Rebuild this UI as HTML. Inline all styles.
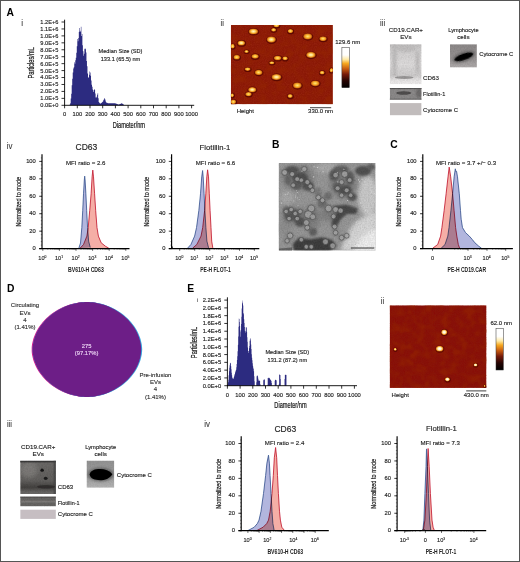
<!DOCTYPE html><html><head><meta charset="utf-8"><style>html,body{margin:0;padding:0;background:#fff}svg{display:block}text{font-family:"Liberation Sans",sans-serif}</style></head><body>
<svg width="520" height="562" viewBox="0 0 520 562">
<defs>
<filter id="noiseR" x="0" y="0" width="100%" height="100%"><feTurbulence type="fractalNoise" baseFrequency="0.9" numOctaves="2" seed="3" result="n"/><feColorMatrix in="n" type="matrix" values="0 0 0 0 0.55  0 0 0 0 0.08  0 0 0 0 0.03  0.9 0.9 0.9 0 -1.05"/></filter>
<filter id="noiseD" x="0" y="0" width="100%" height="100%"><feTurbulence type="fractalNoise" baseFrequency="0.9" numOctaves="2" seed="11" result="n"/><feColorMatrix in="n" type="matrix" values="0 0 0 0 0.25  0 0 0 0 0.0  0 0 0 0 0.0  0.9 0.9 0.9 0 -1.05"/></filter>
<filter id="mott" x="0" y="0" width="100%" height="100%"><feTurbulence type="fractalNoise" baseFrequency="0.12" numOctaves="2" seed="4" result="n"/><feColorMatrix in="n" type="matrix" values="0 0 0 0 0.30  0 0 0 0 0.02  0 0 0 0 0.0  1.6 1.6 1.6 0 -2.1"/></filter>
<filter id="noiseG" x="0" y="0" width="100%" height="100%"><feTurbulence type="fractalNoise" baseFrequency="0.7" numOctaves="2" seed="5" result="n"/><feColorMatrix in="n" type="matrix" values="0 0 0 0 0  0 0 0 0 0  0 0 0 0 0  0.8 0.8 0.8 0 -0.95"/></filter>
<filter id="noiseW" x="0" y="0" width="100%" height="100%"><feTurbulence type="fractalNoise" baseFrequency="0.7" numOctaves="2" seed="9" result="n"/><feColorMatrix in="n" type="matrix" values="0 0 0 0 1  0 0 0 0 1  0 0 0 0 1  0.8 0.8 0.8 0 -0.95"/></filter>
<filter id="b05" x="-20%" y="-20%" width="140%" height="140%"><feGaussianBlur stdDeviation="0.45"/></filter>
<filter id="b1" x="-20%" y="-20%" width="140%" height="140%"><feGaussianBlur stdDeviation="0.6"/></filter>
<filter id="b2" x="-30%" y="-30%" width="160%" height="160%"><feGaussianBlur stdDeviation="1.2"/></filter>
<filter id="b3" x="-30%" y="-30%" width="160%" height="160%"><feGaussianBlur stdDeviation="2.2"/></filter>
<radialGradient id="blob"><stop offset="0" stop-color="#ffe280"/><stop offset="0.4" stop-color="#f8c03c"/><stop offset="0.72" stop-color="#e88c1c"/><stop offset="1" stop-color="#a8400a"/></radialGradient>
<radialGradient id="blobw"><stop offset="0" stop-color="#fff4cc"/><stop offset="0.35" stop-color="#ffe07e"/><stop offset="0.72" stop-color="#ee9a22"/><stop offset="1" stop-color="#a8400a"/></radialGradient>
<radialGradient id="blobE"><stop offset="0" stop-color="#ffffff"/><stop offset="0.45" stop-color="#fff2c0"/><stop offset="0.8" stop-color="#f0a030"/><stop offset="1" stop-color="#b04808"/></radialGradient>
<linearGradient id="cbar" x1="0" y1="0" x2="0" y2="1"><stop offset="0" stop-color="#ffffff"/><stop offset="0.19" stop-color="#ffffff"/><stop offset="0.3" stop-color="#ffeaa6"/><stop offset="0.4" stop-color="#f6a820"/><stop offset="0.53" stop-color="#c85c10"/><stop offset="0.67" stop-color="#761a0a"/><stop offset="0.83" stop-color="#260503"/><stop offset="1" stop-color="#000000"/></linearGradient>
</defs>
<rect x="0" y="0" width="520" height="562" fill="#fff"/>
<text x="6.60" y="16.20" font-size="10.3" text-anchor="start" font-weight="bold" fill="#000" >A</text>
<text x="272.00" y="148.40" font-size="10.3" text-anchor="start" font-weight="bold" fill="#000" >B</text>
<text x="390.30" y="147.90" font-size="10.3" text-anchor="start" font-weight="bold" fill="#000" >C</text>
<text x="6.90" y="291.50" font-size="10.3" text-anchor="start" font-weight="bold" fill="#000" >D</text>
<text x="187.30" y="291.60" font-size="10.3" text-anchor="start" font-weight="bold" fill="#000" >E</text>
<path d="M64.60,105.30 L64.60,105.30 L65.11,105.30 L65.11,105.30 L65.62,105.30 L65.62,105.30 L66.12,105.30 L66.12,105.30 L66.63,105.30 L66.63,105.30 L67.14,105.30 L67.14,105.30 L67.65,105.30 L67.65,105.30 L68.16,105.30 L68.16,105.30 L68.66,105.30 L68.66,105.30 L69.17,105.30 L69.17,105.30 L69.68,105.30 L69.68,104.61 L70.19,104.61 L70.19,103.22 L70.70,103.22 L70.70,98.42 L71.20,98.42 L71.20,93.76 L71.71,93.76 L71.71,85.32 L72.22,85.32 L72.22,78.81 L72.73,78.81 L72.73,72.50 L73.24,72.50 L73.24,68.61 L73.74,68.61 L73.74,67.17 L74.25,67.17 L74.25,62.31 L74.76,62.31 L74.76,63.72 L75.27,63.72 L75.27,60.36 L75.78,60.36 L75.78,57.66 L76.28,57.66 L76.28,52.75 L76.79,52.75 L76.79,46.22 L77.30,46.22 L77.30,39.06 L77.81,39.06 L77.81,41.22 L78.32,41.22 L78.32,38.07 L78.82,38.07 L78.82,32.11 L79.33,32.11 L79.33,28.02 L79.84,28.02 L79.84,30.68 L80.35,30.68 L80.35,31.63 L80.86,31.63 L80.86,26.85 L81.36,26.85 L81.36,36.01 L81.87,36.01 L81.87,33.93 L82.38,33.93 L82.38,45.28 L82.89,45.28 L82.89,51.27 L83.40,51.27 L83.40,55.80 L83.90,55.80 L83.90,53.82 L84.41,53.82 L84.41,48.84 L84.92,48.84 L84.92,49.32 L85.43,49.32 L85.43,48.56 L85.94,48.56 L85.94,52.42 L86.44,52.42 L86.44,60.89 L86.95,60.89 L86.95,66.33 L87.46,66.33 L87.46,73.41 L87.97,73.41 L87.97,77.23 L88.48,77.23 L88.48,77.79 L88.98,77.79 L88.98,74.64 L89.49,74.64 L89.49,71.62 L90.00,71.62 L90.00,72.38 L90.51,72.38 L90.51,75.86 L91.02,75.86 L91.02,80.46 L91.52,80.46 L91.52,84.83 L92.03,84.83 L92.03,86.65 L92.54,86.65 L92.54,89.59 L93.05,89.59 L93.05,92.11 L93.56,92.11 L93.56,90.32 L94.06,90.32 L94.06,89.20 L94.57,89.20 L94.57,89.67 L95.08,89.67 L95.08,93.51 L95.59,93.51 L95.59,97.52 L96.10,97.52 L96.10,96.82 L96.60,96.82 L96.60,97.68 L97.11,97.68 L97.11,94.75 L97.62,94.75 L97.62,93.30 L98.13,93.30 L98.13,98.15 L98.64,98.15 L98.64,101.97 L99.14,101.97 L99.14,102.85 L99.65,102.85 L99.65,103.34 L100.16,103.34 L100.16,103.80 L100.67,103.80 L100.67,103.36 L101.18,103.36 L101.18,102.93 L101.68,102.93 L101.68,102.54 L102.19,102.54 L102.19,102.08 L102.70,102.08 L102.70,101.40 L103.21,101.40 L103.21,100.14 L103.72,100.14 L103.72,99.44 L104.22,99.44 L104.22,98.06 L104.73,98.06 L104.73,98.97 L105.24,98.97 L105.24,100.43 L105.75,100.43 L105.75,101.94 L106.26,101.94 L106.26,102.64 L106.76,102.64 L106.76,102.87 L107.27,102.87 L107.27,103.10 L107.78,103.10 L107.78,103.22 L108.29,103.22 L108.29,103.22 L108.80,103.22 L108.80,103.22 L109.30,103.22 L109.30,103.22 L109.81,103.22 L109.81,103.22 L110.32,103.22 L110.32,103.22 L110.83,103.22 L110.83,103.22 L111.34,103.22 L111.34,103.22 L111.84,103.22 L111.84,103.22 L112.35,103.22 L112.35,103.22 L112.86,103.22 L112.86,103.22 L113.37,103.22 L113.37,103.22 L113.88,103.22 L113.88,103.22 L114.38,103.22 L114.38,103.22 L114.89,103.22 L114.89,103.27 L115.40,103.27 L115.40,103.47 L115.91,103.47 L115.91,103.66 L116.42,103.66 L116.42,103.86 L116.92,103.86 L116.92,104.06 L117.43,104.06 L117.43,104.26 L117.94,104.26 L117.94,104.46 L118.45,104.46 L118.45,104.55 L118.96,104.55 L118.96,104.35 L119.46,104.35 L119.46,104.14 L119.97,104.14 L119.97,103.94 L120.48,103.94 L120.48,103.73 L120.99,103.73 L120.99,103.53 L121.50,103.53 L121.50,103.32 L122.00,103.32 L122.00,103.45 L122.51,103.45 L122.51,103.91 L123.02,103.91 L123.02,104.37 L123.53,104.37 L123.53,104.84 L124.04,104.84 L124.04,105.30 L124.54,105.30 L124.54,105.30 L125.05,105.30 L125.05,105.30Z" fill="#2c2b80"/>
<line x1="64.60" y1="19.70" x2="64.60" y2="105.70" stroke="#000" stroke-width="0.9"/>
<line x1="64.20" y1="105.30" x2="194.20" y2="105.30" stroke="#000" stroke-width="0.9"/>
<line x1="61.50" y1="105.30" x2="64.60" y2="105.30" stroke="#000" stroke-width="0.8"/>
<text x="58.40" y="107.25" font-size="5.65" text-anchor="end" font-weight="normal" fill="#222"  stroke="#222" stroke-width="0.14">0.0E+0</text>
<line x1="61.50" y1="98.36" x2="64.60" y2="98.36" stroke="#000" stroke-width="0.8"/>
<text x="58.40" y="100.31" font-size="5.65" text-anchor="end" font-weight="normal" fill="#222"  stroke="#222" stroke-width="0.14">1.0E+5</text>
<line x1="61.50" y1="91.42" x2="64.60" y2="91.42" stroke="#000" stroke-width="0.8"/>
<text x="58.40" y="93.37" font-size="5.65" text-anchor="end" font-weight="normal" fill="#222"  stroke="#222" stroke-width="0.14">2.0E+5</text>
<line x1="61.50" y1="84.47" x2="64.60" y2="84.47" stroke="#000" stroke-width="0.8"/>
<text x="58.40" y="86.42" font-size="5.65" text-anchor="end" font-weight="normal" fill="#222"  stroke="#222" stroke-width="0.14">3.0E+5</text>
<line x1="61.50" y1="77.53" x2="64.60" y2="77.53" stroke="#000" stroke-width="0.8"/>
<text x="58.40" y="79.48" font-size="5.65" text-anchor="end" font-weight="normal" fill="#222"  stroke="#222" stroke-width="0.14">4.0E+5</text>
<line x1="61.50" y1="70.59" x2="64.60" y2="70.59" stroke="#000" stroke-width="0.8"/>
<text x="58.40" y="72.54" font-size="5.65" text-anchor="end" font-weight="normal" fill="#222"  stroke="#222" stroke-width="0.14">5.0E+5</text>
<line x1="61.50" y1="63.65" x2="64.60" y2="63.65" stroke="#000" stroke-width="0.8"/>
<text x="58.40" y="65.60" font-size="5.65" text-anchor="end" font-weight="normal" fill="#222"  stroke="#222" stroke-width="0.14">6.0E+5</text>
<line x1="61.50" y1="56.71" x2="64.60" y2="56.71" stroke="#000" stroke-width="0.8"/>
<text x="58.40" y="58.66" font-size="5.65" text-anchor="end" font-weight="normal" fill="#222"  stroke="#222" stroke-width="0.14">7.0E+5</text>
<line x1="61.50" y1="49.77" x2="64.60" y2="49.77" stroke="#000" stroke-width="0.8"/>
<text x="58.40" y="51.72" font-size="5.65" text-anchor="end" font-weight="normal" fill="#222"  stroke="#222" stroke-width="0.14">8.0E+5</text>
<line x1="61.50" y1="42.83" x2="64.60" y2="42.83" stroke="#000" stroke-width="0.8"/>
<text x="58.40" y="44.78" font-size="5.65" text-anchor="end" font-weight="normal" fill="#222"  stroke="#222" stroke-width="0.14">9.0E+5</text>
<line x1="61.50" y1="35.88" x2="64.60" y2="35.88" stroke="#000" stroke-width="0.8"/>
<text x="58.40" y="37.83" font-size="5.65" text-anchor="end" font-weight="normal" fill="#222"  stroke="#222" stroke-width="0.14">1.0E+6</text>
<line x1="61.50" y1="28.94" x2="64.60" y2="28.94" stroke="#000" stroke-width="0.8"/>
<text x="58.40" y="30.89" font-size="5.65" text-anchor="end" font-weight="normal" fill="#222"  stroke="#222" stroke-width="0.14">1.1E+6</text>
<line x1="61.50" y1="22.00" x2="64.60" y2="22.00" stroke="#000" stroke-width="0.8"/>
<text x="58.40" y="23.95" font-size="5.65" text-anchor="end" font-weight="normal" fill="#222"  stroke="#222" stroke-width="0.14">1.2E+6</text>
<line x1="64.60" y1="105.30" x2="64.60" y2="108.30" stroke="#000" stroke-width="0.8"/>
<text x="64.60" y="116.10" font-size="5.8" text-anchor="middle" font-weight="normal" fill="#222"  stroke="#222" stroke-width="0.14">0</text>
<line x1="77.30" y1="105.30" x2="77.30" y2="108.30" stroke="#000" stroke-width="0.8"/>
<text x="77.30" y="116.10" font-size="5.8" text-anchor="middle" font-weight="normal" fill="#222"  stroke="#222" stroke-width="0.14">100</text>
<line x1="90.00" y1="105.30" x2="90.00" y2="108.30" stroke="#000" stroke-width="0.8"/>
<text x="90.00" y="116.10" font-size="5.8" text-anchor="middle" font-weight="normal" fill="#222"  stroke="#222" stroke-width="0.14">200</text>
<line x1="102.70" y1="105.30" x2="102.70" y2="108.30" stroke="#000" stroke-width="0.8"/>
<text x="102.70" y="116.10" font-size="5.8" text-anchor="middle" font-weight="normal" fill="#222"  stroke="#222" stroke-width="0.14">300</text>
<line x1="115.40" y1="105.30" x2="115.40" y2="108.30" stroke="#000" stroke-width="0.8"/>
<text x="115.40" y="116.10" font-size="5.8" text-anchor="middle" font-weight="normal" fill="#222"  stroke="#222" stroke-width="0.14">400</text>
<line x1="128.10" y1="105.30" x2="128.10" y2="108.30" stroke="#000" stroke-width="0.8"/>
<text x="128.10" y="116.10" font-size="5.8" text-anchor="middle" font-weight="normal" fill="#222"  stroke="#222" stroke-width="0.14">500</text>
<line x1="140.80" y1="105.30" x2="140.80" y2="108.30" stroke="#000" stroke-width="0.8"/>
<text x="140.80" y="116.10" font-size="5.8" text-anchor="middle" font-weight="normal" fill="#222"  stroke="#222" stroke-width="0.14">600</text>
<line x1="153.50" y1="105.30" x2="153.50" y2="108.30" stroke="#000" stroke-width="0.8"/>
<text x="153.50" y="116.10" font-size="5.8" text-anchor="middle" font-weight="normal" fill="#222"  stroke="#222" stroke-width="0.14">700</text>
<line x1="166.20" y1="105.30" x2="166.20" y2="108.30" stroke="#000" stroke-width="0.8"/>
<text x="166.20" y="116.10" font-size="5.8" text-anchor="middle" font-weight="normal" fill="#222"  stroke="#222" stroke-width="0.14">800</text>
<line x1="178.90" y1="105.30" x2="178.90" y2="108.30" stroke="#000" stroke-width="0.8"/>
<text x="178.90" y="116.10" font-size="5.8" text-anchor="middle" font-weight="normal" fill="#222"  stroke="#222" stroke-width="0.14">900</text>
<line x1="191.60" y1="105.30" x2="191.60" y2="108.30" stroke="#000" stroke-width="0.8"/>
<text x="191.60" y="116.10" font-size="5.8" text-anchor="middle" font-weight="normal" fill="#222"  stroke="#222" stroke-width="0.14">1000</text>
<text x="128.90" y="127.50" font-size="8.2" text-anchor="middle" font-weight="normal" fill="#222" textLength="32.3" lengthAdjust="spacingAndGlyphs" stroke="#222" stroke-width="0.24">Diameter/nm</text>
<text transform="translate(33.90,62.80) rotate(-90)" font-size="8.2" text-anchor="middle" font-weight="normal" fill="#222" textLength="31.3" lengthAdjust="spacingAndGlyphs" stroke="#222" stroke-width="0.24">Particles/mL</text>
<text x="120.50" y="53.40" font-size="5.6" text-anchor="middle" font-weight="normal" fill="#222"  stroke="#222" stroke-width="0.14">Median Size (SD)</text>
<text x="120.50" y="60.90" font-size="5.6" text-anchor="middle" font-weight="normal" fill="#222"  stroke="#222" stroke-width="0.14">133.1 (65.5) nm</text>
<text x="22.10" y="25.60" font-size="8.6" text-anchor="middle" font-weight="normal" fill="#555"  stroke="#555" stroke-width="0.15">i</text>
<path d="M227.40,385.70 L227.40,385.70 L227.72,385.70 L227.72,384.34 L228.03,384.34 L228.03,382.34 L228.35,382.34 L228.35,379.74 L228.67,379.74 L228.67,375.13 L228.99,375.13 L228.99,371.14 L229.31,371.14 L229.31,367.76 L229.62,367.76 L229.62,365.23 L229.94,365.23 L229.94,363.15 L230.26,363.15 L230.26,362.73 L230.58,362.73 L230.58,363.21 L230.89,363.21 L230.89,366.25 L231.21,366.25 L231.21,369.16 L231.53,369.16 L231.53,372.70 L231.84,372.70 L231.84,375.23 L232.16,375.23 L232.16,377.57 L232.48,377.57 L232.48,378.19 L232.80,378.19 L232.80,378.80 L233.12,378.80 L233.12,378.95 L233.43,378.95 L233.43,378.26 L233.75,378.26 L233.75,377.26 L234.07,377.26 L234.07,376.23 L234.38,376.23 L234.38,374.75 L234.70,374.75 L234.70,374.09 L235.02,374.09 L235.02,372.62 L235.34,372.62 L235.34,371.59 L235.66,371.59 L235.66,370.44 L235.97,370.44 L235.97,369.64 L236.29,369.64 L236.29,367.20 L236.61,367.20 L236.61,364.04 L236.93,364.04 L236.93,360.02 L237.24,360.02 L237.24,356.18 L237.56,356.18 L237.56,351.13 L237.88,351.13 L237.88,344.82 L238.19,344.82 L238.19,336.40 L238.51,336.40 L238.51,326.65 L238.83,326.65 L238.83,318.39 L239.15,318.39 L239.15,318.89 L239.47,318.89 L239.47,322.08 L239.78,322.08 L239.78,326.06 L240.10,326.06 L240.10,331.57 L240.42,331.57 L240.42,336.70 L240.74,336.70 L240.74,330.12 L241.05,330.12 L241.05,323.92 L241.37,323.92 L241.37,316.73 L241.69,316.73 L241.69,308.52 L242.00,308.52 L242.00,303.48 L242.32,303.48 L242.32,300.49 L242.64,300.49 L242.64,302.54 L242.96,302.54 L242.96,305.56 L243.28,305.56 L243.28,313.08 L243.59,313.08 L243.59,314.19 L243.91,314.19 L243.91,319.19 L244.23,319.19 L244.23,322.92 L244.55,322.92 L244.55,327.11 L244.86,327.11 L244.86,330.82 L245.18,330.82 L245.18,332.64 L245.50,332.64 L245.50,331.34 L245.81,331.34 L245.81,327.29 L246.13,327.29 L246.13,327.80 L246.45,327.80 L246.45,326.96 L246.77,326.96 L246.77,331.74 L247.09,331.74 L247.09,337.15 L247.40,337.15 L247.40,341.70 L247.72,341.70 L247.72,347.48 L248.04,347.48 L248.04,351.05 L248.35,351.05 L248.35,353.05 L248.67,353.05 L248.67,350.96 L248.99,350.96 L248.99,348.17 L249.31,348.17 L249.31,346.11 L249.62,346.11 L249.62,340.73 L249.94,340.73 L249.94,338.65 L250.26,338.65 L250.26,338.32 L250.58,338.32 L250.58,340.50 L250.90,340.50 L250.90,344.53 L251.21,344.53 L251.21,348.93 L251.53,348.93 L251.53,354.18 L251.85,354.18 L251.85,357.67 L252.16,357.67 L252.16,360.16 L252.48,360.16 L252.48,363.36 L252.80,363.36 L252.80,365.74 L253.12,365.74 L253.12,367.80 L253.44,367.80 L253.44,369.03 L253.75,369.03 L253.75,371.20 L254.07,371.20 L254.07,376.33 L254.39,376.33 L254.39,381.25 L254.71,381.25 L254.71,385.70 L255.02,385.70 L255.02,385.70 L255.34,385.70 L255.34,385.70 L255.66,385.70 L255.66,385.70 L255.97,385.70 L255.97,385.70 L256.29,385.70 L256.29,382.16 L256.61,382.16 L256.61,376.23 L256.93,376.23 L256.93,375.44 L257.25,375.44 L257.25,375.45 L257.56,375.45 L257.56,376.02 L257.88,376.02 L257.88,377.47 L258.20,377.47 L258.20,379.36 L258.51,379.36 L258.51,380.68 L258.83,380.68 L258.83,380.55 L259.15,380.55 L259.15,380.58 L259.47,380.58 L259.47,380.63 L259.78,380.63 L259.78,381.07 L260.10,381.07 L260.10,384.12 L260.42,384.12 L260.42,385.70 L260.74,385.70 L260.74,385.70 L261.06,385.70 L261.06,385.70 L261.37,385.70 L261.37,385.70 L261.69,385.70 L261.69,385.70 L262.01,385.70 L262.01,385.70 L262.32,385.70 L262.32,385.70 L262.64,385.70 L262.64,385.70 L262.96,385.70 L262.96,385.70 L263.28,385.70 L263.28,380.35 L263.60,380.35 L263.60,379.66 L263.91,379.66 L263.91,379.44 L264.23,379.44 L264.23,379.52 L264.55,379.52 L264.55,379.43 L264.87,379.43 L264.87,385.70 L265.18,385.70 L265.18,385.70 L265.50,385.70 L265.50,385.70 L265.82,385.70 L265.82,385.70 L266.13,385.70 L266.13,385.70 L266.45,385.70 L266.45,385.70 L266.77,385.70 L266.77,385.70 L267.09,385.70 L267.09,385.70 L267.40,385.70 L267.40,384.73 L267.72,384.73 L267.72,378.08 L268.04,378.08 L268.04,378.13 L268.36,378.13 L268.36,377.85 L268.68,377.85 L268.68,377.77 L268.99,377.77 L268.99,377.83 L269.31,377.83 L269.31,378.10 L269.63,378.10 L269.63,378.58 L269.94,378.58 L269.94,379.11 L270.26,379.11 L270.26,379.78 L270.58,379.78 L270.58,380.10 L270.90,380.10 L270.90,380.51 L271.21,380.51 L271.21,380.96 L271.53,380.96 L271.53,382.89 L271.85,382.89 L271.85,385.70 L272.17,385.70 L272.17,385.70 L272.49,385.70 L272.49,385.70 L272.80,385.70 L272.80,385.70 L273.12,385.70 L273.12,385.70 L273.44,385.70 L273.44,385.70 L273.75,385.70 L273.75,385.70 L274.07,385.70 L274.07,385.70 L274.39,385.70 L274.39,385.70 L274.71,385.70 L274.71,380.71 L275.02,380.71 L275.02,380.01 L275.34,380.01 L275.34,379.85 L275.66,379.85 L275.66,379.76 L275.98,379.76 L275.98,379.94 L276.30,379.94 L276.30,380.51 L276.61,380.51 L276.61,385.70 L276.93,385.70 L276.93,385.70 L277.25,385.70 L277.25,385.70 L277.56,385.70 L277.56,385.70 L277.88,385.70 L277.88,385.70 L278.20,385.70 L278.20,385.70 L278.52,385.70 L278.52,385.70 L278.83,385.70 L278.83,384.34 L279.15,384.34 L279.15,374.60 L279.47,374.60 L279.47,374.62 L279.79,374.62 L279.79,375.00 L280.11,375.00 L280.11,375.10 L280.42,375.10 L280.42,379.07 L280.74,379.07 L280.74,385.70 L281.06,385.70 L281.06,385.70 L281.38,385.70 L281.38,385.70 L281.69,385.70 L281.69,385.70 L282.01,385.70 L282.01,385.70 L282.33,385.70 L282.33,385.70 L282.64,385.70 L282.64,385.70 L282.96,385.70 L282.96,385.70 L283.28,385.70 L283.28,385.70 L283.60,385.70 L283.60,385.70 L283.91,385.70 L283.91,385.70 L284.23,385.70 L284.23,385.70 L284.55,385.70 L284.55,379.08 L284.87,379.08 L284.87,375.11 L285.19,375.11 L285.19,374.83 L285.50,374.83 L285.50,374.65 L285.82,374.65 L285.82,374.69 L286.14,374.69 L286.14,374.93 L286.45,374.93 L286.45,385.70 L286.77,385.70 L286.77,385.70 L287.09,385.70 L287.09,385.70Z" fill="#2c2b80"/>
<line x1="227.40" y1="297.30" x2="227.40" y2="386.10" stroke="#000" stroke-width="0.9"/>
<line x1="227.00" y1="385.70" x2="357.00" y2="385.70" stroke="#000" stroke-width="0.9"/>
<line x1="224.30" y1="385.70" x2="227.40" y2="385.70" stroke="#000" stroke-width="0.8"/>
<text x="221.20" y="387.65" font-size="5.8" text-anchor="end" font-weight="normal" fill="#222"  stroke="#222" stroke-width="0.14">0.0E+0</text>
<line x1="224.30" y1="377.92" x2="227.40" y2="377.92" stroke="#000" stroke-width="0.8"/>
<text x="221.20" y="379.87" font-size="5.8" text-anchor="end" font-weight="normal" fill="#222"  stroke="#222" stroke-width="0.14">2.0E+5</text>
<line x1="224.30" y1="370.14" x2="227.40" y2="370.14" stroke="#000" stroke-width="0.8"/>
<text x="221.20" y="372.09" font-size="5.8" text-anchor="end" font-weight="normal" fill="#222"  stroke="#222" stroke-width="0.14">4.0E+5</text>
<line x1="224.30" y1="362.35" x2="227.40" y2="362.35" stroke="#000" stroke-width="0.8"/>
<text x="221.20" y="364.30" font-size="5.8" text-anchor="end" font-weight="normal" fill="#222"  stroke="#222" stroke-width="0.14">6.0E+5</text>
<line x1="224.30" y1="354.57" x2="227.40" y2="354.57" stroke="#000" stroke-width="0.8"/>
<text x="221.20" y="356.52" font-size="5.8" text-anchor="end" font-weight="normal" fill="#222"  stroke="#222" stroke-width="0.14">8.0E+5</text>
<line x1="224.30" y1="346.79" x2="227.40" y2="346.79" stroke="#000" stroke-width="0.8"/>
<text x="221.20" y="348.74" font-size="5.8" text-anchor="end" font-weight="normal" fill="#222"  stroke="#222" stroke-width="0.14">1.0E+6</text>
<line x1="224.30" y1="339.01" x2="227.40" y2="339.01" stroke="#000" stroke-width="0.8"/>
<text x="221.20" y="340.96" font-size="5.8" text-anchor="end" font-weight="normal" fill="#222"  stroke="#222" stroke-width="0.14">1.2E+6</text>
<line x1="224.30" y1="331.23" x2="227.40" y2="331.23" stroke="#000" stroke-width="0.8"/>
<text x="221.20" y="333.18" font-size="5.8" text-anchor="end" font-weight="normal" fill="#222"  stroke="#222" stroke-width="0.14">1.4E+6</text>
<line x1="224.30" y1="323.45" x2="227.40" y2="323.45" stroke="#000" stroke-width="0.8"/>
<text x="221.20" y="325.40" font-size="5.8" text-anchor="end" font-weight="normal" fill="#222"  stroke="#222" stroke-width="0.14">1.6E+6</text>
<line x1="224.30" y1="315.66" x2="227.40" y2="315.66" stroke="#000" stroke-width="0.8"/>
<text x="221.20" y="317.61" font-size="5.8" text-anchor="end" font-weight="normal" fill="#222"  stroke="#222" stroke-width="0.14">1.8E+6</text>
<line x1="224.30" y1="307.88" x2="227.40" y2="307.88" stroke="#000" stroke-width="0.8"/>
<text x="221.20" y="309.83" font-size="5.8" text-anchor="end" font-weight="normal" fill="#222"  stroke="#222" stroke-width="0.14">2.0E+6</text>
<line x1="224.30" y1="300.10" x2="227.40" y2="300.10" stroke="#000" stroke-width="0.8"/>
<text x="221.20" y="302.05" font-size="5.8" text-anchor="end" font-weight="normal" fill="#222"  stroke="#222" stroke-width="0.14">2.2E+6</text>
<line x1="227.40" y1="385.70" x2="227.40" y2="388.70" stroke="#000" stroke-width="0.8"/>
<text x="227.40" y="396.50" font-size="5.8" text-anchor="middle" font-weight="normal" fill="#222"  stroke="#222" stroke-width="0.14">0</text>
<line x1="240.10" y1="385.70" x2="240.10" y2="388.70" stroke="#000" stroke-width="0.8"/>
<text x="240.10" y="396.50" font-size="5.8" text-anchor="middle" font-weight="normal" fill="#222"  stroke="#222" stroke-width="0.14">100</text>
<line x1="252.80" y1="385.70" x2="252.80" y2="388.70" stroke="#000" stroke-width="0.8"/>
<text x="252.80" y="396.50" font-size="5.8" text-anchor="middle" font-weight="normal" fill="#222"  stroke="#222" stroke-width="0.14">200</text>
<line x1="265.50" y1="385.70" x2="265.50" y2="388.70" stroke="#000" stroke-width="0.8"/>
<text x="265.50" y="396.50" font-size="5.8" text-anchor="middle" font-weight="normal" fill="#222"  stroke="#222" stroke-width="0.14">300</text>
<line x1="278.20" y1="385.70" x2="278.20" y2="388.70" stroke="#000" stroke-width="0.8"/>
<text x="278.20" y="396.50" font-size="5.8" text-anchor="middle" font-weight="normal" fill="#222"  stroke="#222" stroke-width="0.14">400</text>
<line x1="290.90" y1="385.70" x2="290.90" y2="388.70" stroke="#000" stroke-width="0.8"/>
<text x="290.90" y="396.50" font-size="5.8" text-anchor="middle" font-weight="normal" fill="#222"  stroke="#222" stroke-width="0.14">500</text>
<line x1="303.60" y1="385.70" x2="303.60" y2="388.70" stroke="#000" stroke-width="0.8"/>
<text x="303.60" y="396.50" font-size="5.8" text-anchor="middle" font-weight="normal" fill="#222"  stroke="#222" stroke-width="0.14">600</text>
<line x1="316.30" y1="385.70" x2="316.30" y2="388.70" stroke="#000" stroke-width="0.8"/>
<text x="316.30" y="396.50" font-size="5.8" text-anchor="middle" font-weight="normal" fill="#222"  stroke="#222" stroke-width="0.14">700</text>
<line x1="329.00" y1="385.70" x2="329.00" y2="388.70" stroke="#000" stroke-width="0.8"/>
<text x="329.00" y="396.50" font-size="5.8" text-anchor="middle" font-weight="normal" fill="#222"  stroke="#222" stroke-width="0.14">800</text>
<line x1="341.70" y1="385.70" x2="341.70" y2="388.70" stroke="#000" stroke-width="0.8"/>
<text x="341.70" y="396.50" font-size="5.8" text-anchor="middle" font-weight="normal" fill="#222"  stroke="#222" stroke-width="0.14">900</text>
<line x1="354.40" y1="385.70" x2="354.40" y2="388.70" stroke="#000" stroke-width="0.8"/>
<text x="354.40" y="396.50" font-size="5.8" text-anchor="middle" font-weight="normal" fill="#222"  stroke="#222" stroke-width="0.14">1000</text>
<text x="290.50" y="407.90" font-size="8.2" text-anchor="middle" font-weight="normal" fill="#222" textLength="32.3" lengthAdjust="spacingAndGlyphs" stroke="#222" stroke-width="0.24">Diameter/nm</text>
<text transform="translate(196.50,342.50) rotate(-90)" font-size="8.2" text-anchor="middle" font-weight="normal" fill="#222" textLength="31.3" lengthAdjust="spacingAndGlyphs" stroke="#222" stroke-width="0.24">Particles/mL</text>
<text x="287.30" y="354.30" font-size="5.6" text-anchor="middle" font-weight="normal" fill="#222"  stroke="#222" stroke-width="0.14">Median Size (SD)</text>
<text x="287.30" y="361.80" font-size="5.6" text-anchor="middle" font-weight="normal" fill="#222"  stroke="#222" stroke-width="0.14">131.2 (87.2) nm</text>
<text x="197.70" y="302.00" font-size="6.0" text-anchor="middle" font-weight="normal" fill="#555"  stroke="#555" stroke-width="0.15">i</text>
<clipPath id="cA"><rect x="230.90" y="24.90" width="102.00" height="79.30"/></clipPath>
<g clip-path="url(#cA)">
<rect x="230.90" y="24.90" width="102.00" height="79.30" fill="#8a1806"/>
<rect x="230.90" y="24.90" width="102.00" height="79.30" filter="url(#noiseR)" opacity="0.22"/>
<rect x="230.90" y="24.90" width="102.00" height="79.30" filter="url(#mott)" opacity="0.5"/>
<ellipse cx="253.60" cy="31.80" rx="5.70" ry="3.80" fill="#4a0600" opacity="0.7" filter="url(#b1)"/>
<ellipse cx="276.60" cy="26.00" rx="3.90" ry="2.50" fill="#4a0600" opacity="0.7" filter="url(#b1)"/>
<ellipse cx="273.80" cy="30.20" rx="3.40" ry="2.70" fill="#4a0600" opacity="0.7" filter="url(#b1)"/>
<ellipse cx="271.50" cy="39.90" rx="5.50" ry="4.00" fill="#4a0600" opacity="0.7" filter="url(#b1)"/>
<ellipse cx="241.50" cy="43.40" rx="4.70" ry="3.40" fill="#4a0600" opacity="0.7" filter="url(#b1)"/>
<ellipse cx="232.80" cy="46.60" rx="2.90" ry="3.20" fill="#4a0600" opacity="0.7" filter="url(#b1)"/>
<ellipse cx="246.70" cy="51.80" rx="3.10" ry="2.30" fill="#4a0600" opacity="0.7" filter="url(#b1)"/>
<ellipse cx="236.90" cy="57.60" rx="4.10" ry="3.20" fill="#4a0600" opacity="0.7" filter="url(#b1)"/>
<ellipse cx="255.30" cy="56.70" rx="4.50" ry="3.20" fill="#4a0600" opacity="0.7" filter="url(#b1)"/>
<ellipse cx="277.80" cy="58.40" rx="4.70" ry="3.10" fill="#4a0600" opacity="0.7" filter="url(#b1)"/>
<ellipse cx="285.30" cy="58.70" rx="3.50" ry="2.80" fill="#4a0600" opacity="0.7" filter="url(#b1)"/>
<ellipse cx="272.00" cy="63.10" rx="3.50" ry="2.30" fill="#4a0600" opacity="0.7" filter="url(#b1)"/>
<ellipse cx="247.80" cy="69.50" rx="3.80" ry="2.60" fill="#4a0600" opacity="0.7" filter="url(#b1)"/>
<ellipse cx="290.60" cy="31.40" rx="3.60" ry="2.90" fill="#4a0600" opacity="0.7" filter="url(#b1)"/>
<ellipse cx="307.90" cy="36.80" rx="5.40" ry="3.90" fill="#4a0600" opacity="0.7" filter="url(#b1)"/>
<ellipse cx="323.20" cy="39.10" rx="4.60" ry="3.20" fill="#4a0600" opacity="0.7" filter="url(#b1)"/>
<ellipse cx="311.10" cy="55.30" rx="5.70" ry="3.90" fill="#4a0600" opacity="0.7" filter="url(#b1)"/>
<ellipse cx="331.80" cy="69.70" rx="2.20" ry="2.10" fill="#4a0600" opacity="0.7" filter="url(#b1)"/>
<ellipse cx="258.80" cy="72.80" rx="4.70" ry="3.50" fill="#4a0600" opacity="0.7" filter="url(#b1)"/>
<ellipse cx="276.60" cy="77.40" rx="5.90" ry="3.90" fill="#4a0600" opacity="0.7" filter="url(#b1)"/>
<ellipse cx="252.40" cy="90.10" rx="5.00" ry="3.50" fill="#4a0600" opacity="0.7" filter="url(#b1)"/>
<ellipse cx="248.70" cy="94.50" rx="4.10" ry="3.00" fill="#4a0600" opacity="0.7" filter="url(#b1)"/>
<ellipse cx="232.40" cy="95.60" rx="2.50" ry="2.80" fill="#4a0600" opacity="0.7" filter="url(#b1)"/>
<ellipse cx="233.50" cy="102.20" rx="3.60" ry="3.20" fill="#4a0600" opacity="0.7" filter="url(#b1)"/>
<ellipse cx="322.30" cy="73.00" rx="3.30" ry="2.70" fill="#4a0600" opacity="0.7" filter="url(#b1)"/>
<ellipse cx="331.60" cy="70.70" rx="2.70" ry="2.90" fill="#4a0600" opacity="0.7" filter="url(#b1)"/>
<ellipse cx="297.50" cy="85.80" rx="5.30" ry="3.90" fill="#4a0600" opacity="0.7" filter="url(#b1)"/>
<ellipse cx="315.40" cy="83.70" rx="5.30" ry="3.70" fill="#4a0600" opacity="0.7" filter="url(#b1)"/>
<ellipse cx="290.30" cy="96.40" rx="3.50" ry="2.80" fill="#4a0600" opacity="0.7" filter="url(#b1)"/>
<ellipse cx="253.40" cy="31.40" rx="4.75" ry="2.94" fill="url(#blobw)" filter="url(#b05)"/>
<ellipse cx="276.40" cy="25.60" rx="3.04" ry="1.71" fill="url(#blob)" filter="url(#b05)"/>
<ellipse cx="273.60" cy="29.80" rx="2.56" ry="1.90" fill="url(#blob)" filter="url(#b05)"/>
<ellipse cx="271.30" cy="39.50" rx="4.56" ry="3.13" fill="url(#blobw)" filter="url(#b05)"/>
<ellipse cx="241.30" cy="43.00" rx="3.80" ry="2.56" fill="url(#blobw)" filter="url(#b05)"/>
<ellipse cx="232.60" cy="46.20" rx="2.09" ry="2.38" fill="url(#blob)" filter="url(#b05)"/>
<ellipse cx="246.50" cy="51.40" rx="2.28" ry="1.52" fill="url(#blob)" filter="url(#b05)"/>
<ellipse cx="236.70" cy="57.20" rx="3.23" ry="2.38" fill="url(#blob)" filter="url(#b05)"/>
<ellipse cx="255.10" cy="56.30" rx="3.61" ry="2.38" fill="url(#blob)" filter="url(#b05)"/>
<ellipse cx="277.60" cy="58.00" rx="3.80" ry="2.28" fill="url(#blob)" filter="url(#b05)"/>
<ellipse cx="285.10" cy="58.30" rx="2.66" ry="1.99" fill="url(#blob)" filter="url(#b05)"/>
<ellipse cx="271.80" cy="62.70" rx="2.66" ry="1.52" fill="url(#blob)" filter="url(#b05)"/>
<ellipse cx="247.60" cy="69.10" rx="2.94" ry="1.80" fill="url(#blob)" filter="url(#b05)"/>
<ellipse cx="290.40" cy="31.00" rx="2.75" ry="2.09" fill="url(#blob)" filter="url(#b05)"/>
<ellipse cx="307.70" cy="36.40" rx="4.46" ry="3.04" fill="url(#blob)" filter="url(#b05)"/>
<ellipse cx="323.00" cy="38.70" rx="3.70" ry="2.38" fill="url(#blob)" filter="url(#b05)"/>
<ellipse cx="310.90" cy="54.90" rx="4.75" ry="3.04" fill="url(#blobw)" filter="url(#b05)"/>
<ellipse cx="331.60" cy="69.30" rx="1.42" ry="1.33" fill="url(#blob)" filter="url(#b05)"/>
<ellipse cx="258.60" cy="72.40" rx="3.80" ry="2.66" fill="url(#blob)" filter="url(#b05)"/>
<ellipse cx="276.40" cy="77.00" rx="4.94" ry="3.04" fill="url(#blobw)" filter="url(#b05)"/>
<ellipse cx="252.20" cy="89.70" rx="4.08" ry="2.66" fill="url(#blobw)" filter="url(#b05)"/>
<ellipse cx="248.50" cy="94.10" rx="3.23" ry="2.18" fill="url(#blob)" filter="url(#b05)"/>
<ellipse cx="232.20" cy="95.20" rx="1.71" ry="1.99" fill="url(#blob)" filter="url(#b05)"/>
<ellipse cx="233.30" cy="101.80" rx="2.75" ry="2.38" fill="url(#blob)" filter="url(#b05)"/>
<ellipse cx="322.10" cy="72.60" rx="2.47" ry="1.90" fill="url(#blob)" filter="url(#b05)"/>
<ellipse cx="331.40" cy="70.30" rx="1.90" ry="2.09" fill="url(#blob)" filter="url(#b05)"/>
<ellipse cx="297.30" cy="85.40" rx="4.37" ry="3.04" fill="url(#blob)" filter="url(#b05)"/>
<ellipse cx="315.20" cy="83.30" rx="4.37" ry="2.85" fill="url(#blob)" filter="url(#b05)"/>
<ellipse cx="290.10" cy="96.00" rx="2.66" ry="1.99" fill="url(#blob)" filter="url(#b05)"/>
</g>
<rect x="341.90" y="47.30" width="7.40" height="40.40" fill="url(#cbar)" stroke="#333" stroke-width="0.5"/>
<text x="347.80" y="44.40" font-size="6.0" text-anchor="middle" font-weight="normal" fill="#222"  stroke="#222" stroke-width="0.14">129.6 nm</text>
<text x="236.70" y="112.50" font-size="6.0" text-anchor="start" font-weight="normal" fill="#222"  stroke="#222" stroke-width="0.14">Height</text>
<line x1="310.00" y1="107.70" x2="331.20" y2="107.70" stroke="#111" stroke-width="0.8"/>
<text x="320.60" y="112.50" font-size="6.0" text-anchor="middle" font-weight="normal" fill="#222"  stroke="#222" stroke-width="0.14">330.0 nm</text>
<text transform="translate(222.30,26.10) scale(0.84,1)" font-size="9.0" text-anchor="middle" font-weight="normal" fill="#3a3a3a"  stroke="#3a3a3a" stroke-width="0.1">ii</text>
<clipPath id="cE"><rect x="389.70" y="305.30" width="96.80" height="82.60"/></clipPath>
<g clip-path="url(#cE)">
<rect x="389.70" y="305.30" width="96.80" height="82.60" fill="#88140a"/>
<rect x="389.70" y="305.30" width="96.80" height="82.60" filter="url(#noiseD)" opacity="0.45"/>
<rect x="389.70" y="305.30" width="96.80" height="82.60" filter="url(#mott)" opacity="0.5"/>
<ellipse cx="444.40" cy="332.60" rx="3.70" ry="3.50" fill="#4a0600" opacity="0.7" filter="url(#b1)"/>
<ellipse cx="439.80" cy="349.10" rx="4.50" ry="3.60" fill="#4a0600" opacity="0.7" filter="url(#b1)"/>
<ellipse cx="395.40" cy="349.70" rx="2.20" ry="2.20" fill="#4a0600" opacity="0.7" filter="url(#b1)"/>
<ellipse cx="475.70" cy="365.30" rx="2.70" ry="2.30" fill="#4a0600" opacity="0.7" filter="url(#b1)"/>
<ellipse cx="447.60" cy="379.70" rx="3.20" ry="2.80" fill="#4a0600" opacity="0.7" filter="url(#b1)"/>
<ellipse cx="484.80" cy="386.30" rx="1.70" ry="1.70" fill="#4a0600" opacity="0.7" filter="url(#b1)"/>
<ellipse cx="444.20" cy="332.20" rx="3.00" ry="2.80" fill="url(#blobE)" filter="url(#b05)"/>
<ellipse cx="439.60" cy="348.70" rx="3.80" ry="2.90" fill="url(#blobE)" filter="url(#b05)"/>
<ellipse cx="395.20" cy="349.30" rx="1.50" ry="1.50" fill="url(#blobw)" filter="url(#b05)"/>
<ellipse cx="475.50" cy="364.90" rx="2.00" ry="1.60" fill="url(#blobE)" filter="url(#b05)"/>
<ellipse cx="447.40" cy="379.30" rx="2.50" ry="2.10" fill="url(#blobE)" filter="url(#b05)"/>
<ellipse cx="484.60" cy="385.90" rx="1.00" ry="1.00" fill="url(#blob)" filter="url(#b05)"/>
</g>
<rect x="496.00" y="328.50" width="7.30" height="41.50" fill="url(#cbar)" stroke="#333" stroke-width="0.5"/>
<text x="501.25" y="325.00" font-size="6.0" text-anchor="middle" font-weight="normal" fill="#222"  stroke="#222" stroke-width="0.14">62.0 nm</text>
<text x="391.60" y="396.70" font-size="6.0" text-anchor="start" font-weight="normal" fill="#222"  stroke="#222" stroke-width="0.14">Height</text>
<line x1="466.20" y1="390.90" x2="486.30" y2="390.90" stroke="#111" stroke-width="0.8"/>
<text x="476.25" y="396.70" font-size="6.0" text-anchor="middle" font-weight="normal" fill="#222"  stroke="#222" stroke-width="0.14">430.0 nm</text>
<text transform="translate(382.40,303.80) scale(0.84,1)" font-size="9.0" text-anchor="middle" font-weight="normal" fill="#3a3a3a"  stroke="#3a3a3a" stroke-width="0.1">ii</text>
<linearGradient id="gA1" x1="0" y1="0" x2="0" y2="1"><stop offset="0" stop-color="#bdbbbb"/><stop offset="0.12" stop-color="#cfcdcd"/><stop offset="0.5" stop-color="#dddbdb"/><stop offset="0.78" stop-color="#cdcbcb"/><stop offset="0.9" stop-color="#e6e4e4"/><stop offset="1" stop-color="#efeded"/></linearGradient>
<clipPath id="kA1"><rect x="389.80" y="44.20" width="31.80" height="40.00"/></clipPath>
<g clip-path="url(#kA1)"><rect x="389.80" y="44.20" width="31.80" height="40.00" fill="url(#gA1)"/><ellipse cx="394.5" cy="60" rx="2.2" ry="17" fill="#b4b2b2" opacity="0.7" filter="url(#b2)"/><ellipse cx="417.5" cy="62" rx="2.2" ry="12" fill="#b6b4b4" opacity="0.7" filter="url(#b2)"/><ellipse cx="406" cy="49" rx="10" ry="3" fill="#b8b6b6" opacity="0.6" filter="url(#b2)"/><ellipse cx="404.2" cy="77.5" rx="9.5" ry="1.4" fill="#8e8c8c" opacity="0.85" filter="url(#b1)"/><rect x="389" y="44" width="34" height="41" filter="url(#noiseG)" opacity="0.10"/></g>
<clipPath id="kA2"><rect x="389.80" y="88.00" width="31.80" height="11.70"/></clipPath>
<g clip-path="url(#kA2)"><rect x="389.80" y="88.00" width="31.80" height="11.70" fill="#8b8989"/><rect x="389" y="87.3" width="34" height="1.8" fill="#4a4848" opacity="0.8" filter="url(#b1)"/><rect x="389" y="98.6" width="34" height="1.6" fill="#5a5858" opacity="0.7" filter="url(#b1)"/><ellipse cx="419" cy="93" rx="3" ry="5" fill="#5a5858" opacity="0.6" filter="url(#b2)"/><ellipse cx="403.7" cy="93.0" rx="7.5" ry="1.7" fill="#484646" opacity="0.9" filter="url(#b1)"/><rect x="389" y="87" width="34" height="14" filter="url(#noiseG)" opacity="0.12"/></g>
<clipPath id="kA3"><rect x="389.80" y="103.10" width="31.80" height="12.30"/></clipPath>
<g clip-path="url(#kA3)"><rect x="389.80" y="103.10" width="31.80" height="12.30" fill="#c1bcbc"/></g>
<linearGradient id="gL1" x1="0" y1="0" x2="0" y2="1"><stop offset="0" stop-color="#8c8888"/><stop offset="0.6" stop-color="#969292"/><stop offset="1" stop-color="#aeaaaa"/></linearGradient>
<clipPath id="kA4"><rect x="450.00" y="44.20" width="26.90" height="23.40"/></clipPath>
<g clip-path="url(#kA4)"><rect x="450.00" y="44.20" width="26.90" height="23.40" fill="url(#gL1)"/><ellipse cx="463.8" cy="56.8" rx="11.5" ry="4.6" fill="#3a3a3a" opacity="0.55" transform="rotate(-19 463.8 56.8)" filter="url(#b2)"/><ellipse cx="463.8" cy="56.8" rx="9.8" ry="3.0" fill="#060606" transform="rotate(-19 463.8 56.8)" filter="url(#b1)"/><rect x="450" y="44" width="28" height="24" filter="url(#noiseG)" opacity="0.10"/></g>
<text transform="translate(382.60,26.10) scale(0.84,1)" font-size="9.0" text-anchor="middle" font-weight="normal" fill="#3a3a3a"  stroke="#3a3a3a" stroke-width="0.1">iii</text>
<text x="405.90" y="31.70" font-size="6.2" text-anchor="middle" font-weight="normal" fill="#222" textLength="34.1" lengthAdjust="spacingAndGlyphs" stroke="#222" stroke-width="0.14">CD19.CAR+</text>
<text x="405.90" y="39.20" font-size="6.2" text-anchor="middle" font-weight="normal" fill="#222"  stroke="#222" stroke-width="0.14">EVs</text>
<text x="463.40" y="31.70" font-size="6.2" text-anchor="middle" font-weight="normal" fill="#222" textLength="30.4" lengthAdjust="spacingAndGlyphs" stroke="#222" stroke-width="0.14">Lymphocyte</text>
<text x="463.40" y="39.20" font-size="6.2" text-anchor="middle" font-weight="normal" fill="#222"  stroke="#222" stroke-width="0.14">cells</text>
<text x="423.10" y="79.80" font-size="6.2" text-anchor="start" font-weight="normal" fill="#222"  stroke="#222" stroke-width="0.14">CD63</text>
<text x="423.10" y="96.30" font-size="6.2" text-anchor="start" font-weight="normal" fill="#222" textLength="22.2" lengthAdjust="spacingAndGlyphs" stroke="#222" stroke-width="0.14">Flotillin-1</text>
<text x="423.10" y="112.00" font-size="6.2" text-anchor="start" font-weight="normal" fill="#222" textLength="34.9" lengthAdjust="spacingAndGlyphs" stroke="#222" stroke-width="0.14">Cytocrome C</text>
<text x="479.20" y="55.60" font-size="6.2" text-anchor="start" font-weight="normal" fill="#222" textLength="34.1" lengthAdjust="spacingAndGlyphs" stroke="#222" stroke-width="0.14">Cytocrome C</text>
<linearGradient id="gB1" x1="0" y1="0" x2="0" y2="1"><stop offset="0" stop-color="#6c6a68"/><stop offset="0.6" stop-color="#605e5c"/><stop offset="0.8" stop-color="#444240"/><stop offset="0.92" stop-color="#62605e"/><stop offset="1" stop-color="#6e6c6a"/></linearGradient>
<clipPath id="kB1"><rect x="20.20" y="460.80" width="35.70" height="33.20"/></clipPath>
<g clip-path="url(#kB1)"><rect x="20.20" y="460.80" width="35.70" height="33.20" fill="url(#gB1)"/><ellipse cx="29" cy="470" rx="9" ry="8" fill="#8a8885" opacity="0.6" filter="url(#b3)"/><rect x="19" y="460" width="38" height="2.4" fill="#333" opacity="0.85" filter="url(#b1)"/><rect x="53.6" y="460" width="3" height="35" fill="#444" opacity="0.7" filter="url(#b1)"/><ellipse cx="46" cy="486.8" rx="9" ry="1.8" fill="#2e2c2a" opacity="0.8" filter="url(#b1)"/><ellipse cx="42.1" cy="470.2" rx="1.7" ry="1.6" fill="#141414" filter="url(#b1)"/><ellipse cx="45.7" cy="478.3" rx="1.9" ry="1.6" fill="#1c1c1c" filter="url(#b1)"/><rect x="19" y="460" width="38" height="35" filter="url(#noiseG)" opacity="0.12"/></g>
<clipPath id="kB2"><rect x="20.20" y="496.50" width="35.70" height="9.90"/></clipPath>
<g clip-path="url(#kB2)"><rect x="20.20" y="496.50" width="35.70" height="9.90" fill="#676563"/><rect x="20" y="500.6" width="36" height="2.0" fill="#8a8886" opacity="0.6" filter="url(#b1)"/><rect x="19" y="496.2" width="38" height="1.5" fill="#4a4846" opacity="0.7" filter="url(#b1)"/><rect x="19" y="496" width="38" height="12" filter="url(#noiseG)" opacity="0.12"/></g>
<clipPath id="kB3"><rect x="20.20" y="509.40" width="35.70" height="9.50"/></clipPath>
<g clip-path="url(#kB3)"><rect x="20.20" y="509.40" width="35.70" height="9.50" fill="#c6bec2"/></g>
<linearGradient id="gL2" x1="0" y1="0" x2="0" y2="1"><stop offset="0" stop-color="#929292"/><stop offset="0.6" stop-color="#9c9c9c"/><stop offset="1" stop-color="#b4b4b4"/></linearGradient>
<clipPath id="kB4"><rect x="86.50" y="460.50" width="27.80" height="27.30"/></clipPath>
<g clip-path="url(#kB4)"><rect x="86.50" y="460.50" width="27.80" height="27.30" fill="url(#gL2)"/><ellipse cx="100.6" cy="474.5" rx="13" ry="7" fill="#3a3a3a" opacity="0.5" filter="url(#b2)"/><path d="M89.6,474.6 C90.5,470.2 95,469 100,469 C105,469 109.5,470.6 112.4,474.2 C109.5,478.6 105,480.2 100,480.2 C95,480.2 90.5,479 89.6,474.6Z" fill="#040404" filter="url(#b1)"/><rect x="86" y="460" width="29" height="28" filter="url(#noiseG)" opacity="0.08"/></g>
<text transform="translate(9.40,426.70) scale(0.84,1)" font-size="9.0" text-anchor="middle" font-weight="normal" fill="#3a3a3a"  stroke="#3a3a3a" stroke-width="0.1">iii</text>
<text x="38.20" y="448.90" font-size="6.2" text-anchor="middle" font-weight="normal" fill="#222" textLength="34.2" lengthAdjust="spacingAndGlyphs" stroke="#222" stroke-width="0.14">CD19.CAR+</text>
<text x="38.20" y="456.20" font-size="6.2" text-anchor="middle" font-weight="normal" fill="#222"  stroke="#222" stroke-width="0.14">EVs</text>
<text x="100.70" y="448.90" font-size="6.2" text-anchor="middle" font-weight="normal" fill="#222" textLength="31.0" lengthAdjust="spacingAndGlyphs" stroke="#222" stroke-width="0.14">Lymphocyte</text>
<text x="100.70" y="456.20" font-size="6.2" text-anchor="middle" font-weight="normal" fill="#222"  stroke="#222" stroke-width="0.14">cells</text>
<text x="57.80" y="488.80" font-size="6.0" text-anchor="start" font-weight="normal" fill="#222"  stroke="#222" stroke-width="0.14">CD63</text>
<text x="57.80" y="504.70" font-size="6.2" text-anchor="start" font-weight="normal" fill="#222" textLength="21.8" lengthAdjust="spacingAndGlyphs" stroke="#222" stroke-width="0.14">Flotillin-1</text>
<text x="57.80" y="515.80" font-size="6.0" text-anchor="start" font-weight="normal" fill="#222"  stroke="#222" stroke-width="0.14">Cytocrome C</text>
<text x="116.80" y="476.70" font-size="6.0" text-anchor="start" font-weight="normal" fill="#222"  stroke="#222" stroke-width="0.14">Cytocrome C</text>
<path d="M141.2,349.5 L141.2,351.1 L141.1,352.8 L140.9,354.5 L140.5,356.3 L140.1,358.0 L139.7,359.8 L139.1,361.6 L138.4,363.3 L137.7,365.1 L136.9,366.8 L136.0,368.5 L135.0,370.2 L133.9,371.9 L132.8,373.5 L131.6,375.1 L130.3,376.7 L128.9,378.2 L127.5,379.7 L126.0,381.2 L124.5,382.5 L122.9,383.9 L121.2,385.2 L119.5,386.4 L117.8,387.6 L116.0,388.7 L114.1,389.7 L112.2,390.7 L110.3,391.7 L108.4,392.5 L106.4,393.3 L104.4,394.0 L102.4,394.7 L100.3,395.2 L98.3,395.7 L96.3,396.1 L94.2,396.5 L92.2,396.8 L90.2,396.9 L88.3,397.1 L86.5,397.1 L84.6,397.1 L82.7,396.9 L80.7,396.8 L78.7,396.5 L76.6,396.1 L74.6,395.7 L72.6,395.2 L70.5,394.7 L68.5,394.0 L66.5,393.3 L64.5,392.5 L62.6,391.7 L60.7,390.7 L58.8,389.7 L56.9,388.7 L55.1,387.6 L53.4,386.4 L51.7,385.2 L50.0,383.9 L48.4,382.5 L46.9,381.2 L45.4,379.7 L44.0,378.2 L42.6,376.7 L41.3,375.1 L40.1,373.5 L39.0,371.9 L37.9,370.2 L36.9,368.5 L36.0,366.8 L35.2,365.1 L34.5,363.3 L33.8,361.6 L33.2,359.8 L32.8,358.0 L32.4,356.3 L32.0,354.5 L31.8,352.8 L31.7,351.1 L31.7,349.5 L31.7,347.9 L31.8,346.2 L32.0,344.5 L32.4,342.7 L32.8,341.0 L33.2,339.2 L33.8,337.4 L34.5,335.7 L35.2,333.9 L36.0,332.2 L36.9,330.5 L37.9,328.8 L39.0,327.1 L40.1,325.5 L41.3,323.9 L42.6,322.3 L44.0,320.8 L45.4,319.3 L46.9,317.8 L48.4,316.5 L50.0,315.1 L51.7,313.8 L53.4,312.6 L55.1,311.4 L56.9,310.3 L58.8,309.3 L60.7,308.3 L62.6,307.3 L64.5,306.5 L66.5,305.7 L68.5,305.0 L70.5,304.3 L72.6,303.8 L74.6,303.3 L76.6,302.9 L78.7,302.5 L80.7,302.2 L82.7,302.1 L84.6,301.9 L86.5,301.9 L88.3,301.9 L90.2,302.1 L92.2,302.2 L94.2,302.5 L96.3,302.9 L98.3,303.3 L100.3,303.8 L102.4,304.3 L104.4,305.0 L106.4,305.7 L108.4,306.5 L110.3,307.3 L112.2,308.3 L114.1,309.3 L116.0,310.3 L117.8,311.4 L119.5,312.6 L121.2,313.8 L122.9,315.1 L124.5,316.5 L126.0,317.8 L127.5,319.3 L128.9,320.8 L130.3,322.3 L131.6,323.9 L132.8,325.5 L133.9,327.1 L135.0,328.8 L136.0,330.5 L136.9,332.2 L137.7,333.9 L138.4,335.7 L139.1,337.4 L139.7,339.2 L140.1,341.0 L140.5,342.7 L140.9,344.5 L141.1,346.2 L141.2,347.9Z" fill="#e6128c"/>
<path d="M142.2,349.5 L142.1,351.1 L142.0,352.8 L141.8,354.5 L141.4,356.3 L141.0,358.0 L140.6,359.8 L140.0,361.6 L139.3,363.3 L138.6,365.1 L137.8,366.8 L136.9,368.5 L135.9,370.2 L134.8,371.9 L133.7,373.5 L132.5,375.1 L131.2,376.7 L129.8,378.2 L128.4,379.7 L126.9,381.2 L125.4,382.5 L123.8,383.9 L122.1,385.2 L120.4,386.4 L118.7,387.6 L116.9,388.7 L115.0,389.7 L113.1,390.7 L111.2,391.7 L109.3,392.5 L107.3,393.3 L105.3,394.0 L103.3,394.7 L101.2,395.2 L99.2,395.7 L97.2,396.1 L95.1,396.5 L93.1,396.8 L91.1,396.9 L89.2,397.1 L87.4,397.1 L85.5,397.1 L83.6,396.9 L81.6,396.8 L79.6,396.5 L77.5,396.1 L75.5,395.7 L73.5,395.2 L71.4,394.7 L69.4,394.0 L67.4,393.3 L65.4,392.5 L63.5,391.7 L61.6,390.7 L59.7,389.7 L57.8,388.7 L56.0,387.6 L54.3,386.4 L52.6,385.2 L50.9,383.9 L49.3,382.5 L47.8,381.2 L46.3,379.7 L44.9,378.2 L43.5,376.7 L42.2,375.1 L41.0,373.5 L39.9,371.9 L38.8,370.2 L37.8,368.5 L36.9,366.8 L36.1,365.1 L35.4,363.3 L34.7,361.6 L34.1,359.8 L33.7,358.0 L33.3,356.3 L32.9,354.5 L32.7,352.8 L32.6,351.1 L32.6,349.5 L32.6,347.9 L32.7,346.2 L32.9,344.5 L33.3,342.7 L33.7,341.0 L34.1,339.2 L34.7,337.4 L35.4,335.7 L36.1,333.9 L36.9,332.2 L37.8,330.5 L38.8,328.8 L39.9,327.1 L41.0,325.5 L42.2,323.9 L43.5,322.3 L44.9,320.8 L46.3,319.3 L47.8,317.8 L49.3,316.5 L50.9,315.1 L52.6,313.8 L54.3,312.6 L56.0,311.4 L57.8,310.3 L59.7,309.3 L61.6,308.3 L63.5,307.3 L65.4,306.5 L67.4,305.7 L69.4,305.0 L71.4,304.3 L73.5,303.8 L75.5,303.3 L77.5,302.9 L79.6,302.5 L81.6,302.2 L83.6,302.1 L85.5,301.9 L87.4,301.9 L89.2,301.9 L91.1,302.1 L93.1,302.2 L95.1,302.5 L97.2,302.9 L99.2,303.3 L101.2,303.8 L103.3,304.3 L105.3,305.0 L107.3,305.7 L109.3,306.5 L111.2,307.3 L113.1,308.3 L115.0,309.3 L116.9,310.3 L118.7,311.4 L120.4,312.6 L122.1,313.8 L123.8,315.1 L125.4,316.5 L126.9,317.8 L128.4,319.3 L129.8,320.8 L131.2,322.3 L132.5,323.9 L133.7,325.5 L134.8,327.1 L135.9,328.8 L136.9,330.5 L137.8,332.2 L138.6,333.9 L139.3,335.7 L140.0,337.4 L140.6,339.2 L141.0,341.0 L141.4,342.7 L141.8,344.5 L142.0,346.2 L142.1,347.9Z" fill="#38a8e0"/>
<path d="M141.2,349.5 L141.2,351.1 L141.0,352.8 L140.8,354.5 L140.5,356.2 L140.1,358.0 L139.6,359.8 L139.1,361.5 L138.4,363.3 L137.7,365.0 L136.9,366.8 L136.0,368.5 L135.0,370.2 L133.9,371.9 L132.8,373.5 L131.6,375.1 L130.3,376.6 L129.0,378.2 L127.6,379.7 L126.1,381.1 L124.6,382.5 L123.0,383.8 L121.4,385.1 L119.7,386.3 L117.9,387.5 L116.1,388.6 L114.3,389.7 L112.5,390.6 L110.5,391.6 L108.6,392.4 L106.7,393.2 L104.7,393.9 L102.7,394.6 L100.7,395.1 L98.6,395.6 L96.6,396.0 L94.6,396.4 L92.6,396.7 L90.6,396.8 L88.7,397.0 L86.9,397.0 L85.1,397.0 L83.2,396.8 L81.2,396.7 L79.2,396.4 L77.2,396.0 L75.2,395.6 L73.1,395.1 L71.1,394.6 L69.1,393.9 L67.1,393.2 L65.2,392.4 L63.3,391.6 L61.3,390.6 L59.5,389.7 L57.7,388.6 L55.9,387.5 L54.1,386.3 L52.4,385.1 L50.8,383.8 L49.2,382.5 L47.7,381.1 L46.2,379.7 L44.8,378.2 L43.5,376.6 L42.2,375.1 L41.0,373.5 L39.9,371.9 L38.8,370.2 L37.8,368.5 L36.9,366.8 L36.1,365.0 L35.4,363.3 L34.7,361.5 L34.2,359.8 L33.7,358.0 L33.3,356.2 L33.0,354.5 L32.8,352.8 L32.6,351.1 L32.6,349.5 L32.6,347.9 L32.8,346.2 L33.0,344.5 L33.3,342.8 L33.7,341.0 L34.2,339.2 L34.7,337.5 L35.4,335.7 L36.1,334.0 L36.9,332.2 L37.8,330.5 L38.8,328.8 L39.9,327.1 L41.0,325.5 L42.2,323.9 L43.5,322.4 L44.8,320.8 L46.2,319.3 L47.7,317.9 L49.2,316.5 L50.8,315.2 L52.4,313.9 L54.1,312.7 L55.9,311.5 L57.7,310.4 L59.5,309.3 L61.3,308.4 L63.3,307.4 L65.2,306.6 L67.1,305.8 L69.1,305.1 L71.1,304.4 L73.1,303.9 L75.2,303.4 L77.2,303.0 L79.2,302.6 L81.2,302.3 L83.2,302.2 L85.1,302.0 L86.9,302.0 L88.7,302.0 L90.6,302.2 L92.6,302.3 L94.6,302.6 L96.6,303.0 L98.6,303.4 L100.7,303.9 L102.7,304.4 L104.7,305.1 L106.7,305.8 L108.6,306.6 L110.5,307.4 L112.5,308.4 L114.3,309.3 L116.1,310.4 L117.9,311.5 L119.7,312.7 L121.4,313.9 L123.0,315.2 L124.6,316.5 L126.1,317.9 L127.6,319.3 L129.0,320.8 L130.3,322.4 L131.6,323.9 L132.8,325.5 L133.9,327.1 L135.0,328.8 L136.0,330.5 L136.9,332.2 L137.7,334.0 L138.4,335.7 L139.1,337.5 L139.6,339.2 L140.1,341.0 L140.5,342.8 L140.8,344.5 L141.0,346.2 L141.2,347.9Z" fill="#6d1e87"/>
<text x="25.00" y="307.30" font-size="6.0" text-anchor="middle" font-weight="normal" fill="#333"  stroke="#333" stroke-width="0.14">Circulating</text>
<text x="25.00" y="314.50" font-size="6.0" text-anchor="middle" font-weight="normal" fill="#333"  stroke="#333" stroke-width="0.14">EVs</text>
<text x="25.00" y="321.70" font-size="6.0" text-anchor="middle" font-weight="normal" fill="#333"  stroke="#333" stroke-width="0.14">4</text>
<text x="25.00" y="328.90" font-size="6.0" text-anchor="middle" font-weight="normal" fill="#333"  stroke="#333" stroke-width="0.14">(1.41%)</text>
<text x="155.40" y="376.50" font-size="6.0" text-anchor="middle" font-weight="normal" fill="#333"  stroke="#333" stroke-width="0.14">Pre-infusion</text>
<text x="155.40" y="383.85" font-size="6.0" text-anchor="middle" font-weight="normal" fill="#333"  stroke="#333" stroke-width="0.14">EVs</text>
<text x="155.40" y="391.20" font-size="6.0" text-anchor="middle" font-weight="normal" fill="#333"  stroke="#333" stroke-width="0.14">4</text>
<text x="155.40" y="398.55" font-size="6.0" text-anchor="middle" font-weight="normal" fill="#333"  stroke="#333" stroke-width="0.14">(1.41%)</text>
<text x="86.60" y="347.50" font-size="5.8" text-anchor="middle" font-weight="normal" fill="#ead0f2"  stroke="#ead0f2" stroke-width="0.14">275</text>
<text x="86.60" y="354.60" font-size="5.8" text-anchor="middle" font-weight="normal" fill="#ead0f2"  stroke="#ead0f2" stroke-width="0.14">(97.17%)</text>
<path d="M78.8,248.2 L80.5,243.0 L81.8,227.6 L82.7,210.7 L83.5,193.8 L84.3,180.0 L84.7,176.1 L85.1,180.0 L85.9,193.8 L86.7,210.7 L87.6,227.6 L88.6,241.1 L90.3,247.5Z" fill="#b2b6de" stroke="none" style="mix-blend-mode:multiply"/>
<path d="M78.8,248.2 L80.5,243.0 L81.8,227.6 L82.7,210.7 L83.5,193.8 L84.3,180.0 L84.7,176.1 L85.1,180.0 L85.9,193.8 L86.7,210.7 L87.6,227.6 L88.6,241.1 L90.3,247.5" fill="none" stroke="#46659c" stroke-width="0.85" stroke-linejoin="round" style="mix-blend-mode:multiply"/>
<path d="M80.1,248.2 L83.5,244.5 L86.9,236.1 L88.2,227.6 L89.7,210.7 L91.1,193.8 L92.1,176.9 L92.8,170.1 L93.5,176.9 L94.6,193.8 L95.7,210.7 L97.0,227.6 L98.4,236.1 L101.2,242.8 L105.4,246.2 L108.8,248.2Z" fill="#f5aea6" stroke="none" style="mix-blend-mode:multiply"/>
<path d="M80.1,248.2 L83.5,244.5 L86.9,236.1 L88.2,227.6 L89.7,210.7 L91.1,193.8 L92.1,176.9 L92.8,170.1 L93.5,176.9 L94.6,193.8 L95.7,210.7 L97.0,227.6 L98.4,236.1 L101.2,242.8 L105.4,246.2 L108.8,248.2" fill="none" stroke="#c6203c" stroke-width="0.85" stroke-linejoin="round" style="mix-blend-mode:multiply"/>
<line x1="42.00" y1="154.20" x2="42.00" y2="249.10" stroke="#000" stroke-width="1.15"/>
<line x1="39.20" y1="248.60" x2="129.50" y2="248.60" stroke="#000" stroke-width="1.25"/>
<line x1="39.20" y1="248.60" x2="42.00" y2="248.60" stroke="#000" stroke-width="0.75"/>
<text x="35.80" y="250.20" font-size="5.8" text-anchor="end" font-weight="normal" fill="#222"  stroke="#222" stroke-width="0.14">0</text>
<line x1="39.20" y1="231.16" x2="42.00" y2="231.16" stroke="#000" stroke-width="0.75"/>
<text x="35.80" y="232.76" font-size="5.8" text-anchor="end" font-weight="normal" fill="#222"  stroke="#222" stroke-width="0.14">20</text>
<line x1="39.20" y1="213.72" x2="42.00" y2="213.72" stroke="#000" stroke-width="0.75"/>
<text x="35.80" y="215.32" font-size="5.8" text-anchor="end" font-weight="normal" fill="#222"  stroke="#222" stroke-width="0.14">40</text>
<line x1="39.20" y1="196.28" x2="42.00" y2="196.28" stroke="#000" stroke-width="0.75"/>
<text x="35.80" y="197.88" font-size="5.8" text-anchor="end" font-weight="normal" fill="#222"  stroke="#222" stroke-width="0.14">60</text>
<line x1="39.20" y1="178.84" x2="42.00" y2="178.84" stroke="#000" stroke-width="0.75"/>
<text x="35.80" y="180.44" font-size="5.8" text-anchor="end" font-weight="normal" fill="#222"  stroke="#222" stroke-width="0.14">80</text>
<line x1="39.20" y1="161.40" x2="42.00" y2="161.40" stroke="#000" stroke-width="0.75"/>
<text x="35.80" y="163.00" font-size="5.8" text-anchor="end" font-weight="normal" fill="#222"  stroke="#222" stroke-width="0.14">100</text>
<line x1="40.80" y1="248.60" x2="42.00" y2="248.60" stroke="#000" stroke-width="0.4"/>
<line x1="40.80" y1="245.11" x2="42.00" y2="245.11" stroke="#000" stroke-width="0.4"/>
<line x1="40.80" y1="241.62" x2="42.00" y2="241.62" stroke="#000" stroke-width="0.4"/>
<line x1="40.80" y1="238.14" x2="42.00" y2="238.14" stroke="#000" stroke-width="0.4"/>
<line x1="40.80" y1="234.65" x2="42.00" y2="234.65" stroke="#000" stroke-width="0.4"/>
<line x1="40.80" y1="231.16" x2="42.00" y2="231.16" stroke="#000" stroke-width="0.4"/>
<line x1="40.80" y1="227.67" x2="42.00" y2="227.67" stroke="#000" stroke-width="0.4"/>
<line x1="40.80" y1="224.18" x2="42.00" y2="224.18" stroke="#000" stroke-width="0.4"/>
<line x1="40.80" y1="220.70" x2="42.00" y2="220.70" stroke="#000" stroke-width="0.4"/>
<line x1="40.80" y1="217.21" x2="42.00" y2="217.21" stroke="#000" stroke-width="0.4"/>
<line x1="40.80" y1="213.72" x2="42.00" y2="213.72" stroke="#000" stroke-width="0.4"/>
<line x1="40.80" y1="210.23" x2="42.00" y2="210.23" stroke="#000" stroke-width="0.4"/>
<line x1="40.80" y1="206.74" x2="42.00" y2="206.74" stroke="#000" stroke-width="0.4"/>
<line x1="40.80" y1="203.26" x2="42.00" y2="203.26" stroke="#000" stroke-width="0.4"/>
<line x1="40.80" y1="199.77" x2="42.00" y2="199.77" stroke="#000" stroke-width="0.4"/>
<line x1="40.80" y1="196.28" x2="42.00" y2="196.28" stroke="#000" stroke-width="0.4"/>
<line x1="40.80" y1="192.79" x2="42.00" y2="192.79" stroke="#000" stroke-width="0.4"/>
<line x1="40.80" y1="189.30" x2="42.00" y2="189.30" stroke="#000" stroke-width="0.4"/>
<line x1="40.80" y1="185.82" x2="42.00" y2="185.82" stroke="#000" stroke-width="0.4"/>
<line x1="40.80" y1="182.33" x2="42.00" y2="182.33" stroke="#000" stroke-width="0.4"/>
<line x1="40.80" y1="178.84" x2="42.00" y2="178.84" stroke="#000" stroke-width="0.4"/>
<line x1="40.80" y1="175.35" x2="42.00" y2="175.35" stroke="#000" stroke-width="0.4"/>
<line x1="40.80" y1="171.86" x2="42.00" y2="171.86" stroke="#000" stroke-width="0.4"/>
<line x1="40.80" y1="168.38" x2="42.00" y2="168.38" stroke="#000" stroke-width="0.4"/>
<line x1="40.80" y1="164.89" x2="42.00" y2="164.89" stroke="#000" stroke-width="0.4"/>
<line x1="40.80" y1="161.40" x2="42.00" y2="161.40" stroke="#000" stroke-width="0.4"/>
<line x1="40.80" y1="157.91" x2="42.00" y2="157.91" stroke="#000" stroke-width="0.4"/>
<text x="42.40" y="259.90" font-size="5.6" text-anchor="middle" fill="#222" stroke="#222" stroke-width="0.12">10<tspan dy="-2.4" font-size="3.36">0</tspan></text>
<text x="59.00" y="259.90" font-size="5.6" text-anchor="middle" fill="#222" stroke="#222" stroke-width="0.12">10<tspan dy="-2.4" font-size="3.36">1</tspan></text>
<text x="75.60" y="259.90" font-size="5.6" text-anchor="middle" fill="#222" stroke="#222" stroke-width="0.12">10<tspan dy="-2.4" font-size="3.36">2</tspan></text>
<text x="92.20" y="259.90" font-size="5.6" text-anchor="middle" fill="#222" stroke="#222" stroke-width="0.12">10<tspan dy="-2.4" font-size="3.36">3</tspan></text>
<text x="108.80" y="259.90" font-size="5.6" text-anchor="middle" fill="#222" stroke="#222" stroke-width="0.12">10<tspan dy="-2.4" font-size="3.36">4</tspan></text>
<text x="125.40" y="259.90" font-size="5.6" text-anchor="middle" fill="#222" stroke="#222" stroke-width="0.12">10<tspan dy="-2.4" font-size="3.36">5</tspan></text>
<text x="86.40" y="149.60" font-size="8.5" text-anchor="middle" font-weight="normal" fill="#222"  stroke="#222" stroke-width="0.14">CD63</text>
<text x="85.70" y="165.10" font-size="6.1" text-anchor="middle" font-weight="normal" fill="#222"  stroke="#222" stroke-width="0.14">MFI ratio = 2.6</text>
<text x="85.90" y="271.70" font-size="8.0" text-anchor="middle" font-weight="bold" fill="#222" textLength="35.8" lengthAdjust="spacingAndGlyphs" stroke="#222" stroke-width="0.0">BV610-H CD63</text>
<text transform="translate(20.60,201.70) rotate(-90)" font-size="6.8" text-anchor="middle" font-weight="normal" fill="#222" textLength="49.8" lengthAdjust="spacingAndGlyphs" stroke="#222" stroke-width="0.22">Normalized to mode</text>
<line x1="42.80" y1="248.60" x2="42.80" y2="250.80" stroke="#000" stroke-width="0.6"/>
<line x1="59.40" y1="248.60" x2="59.40" y2="250.80" stroke="#000" stroke-width="0.6"/>
<line x1="76.00" y1="248.60" x2="76.00" y2="250.80" stroke="#000" stroke-width="0.6"/>
<line x1="92.60" y1="248.60" x2="92.60" y2="250.80" stroke="#000" stroke-width="0.6"/>
<line x1="109.20" y1="248.60" x2="109.20" y2="250.80" stroke="#000" stroke-width="0.6"/>
<line x1="125.80" y1="248.60" x2="125.80" y2="250.80" stroke="#000" stroke-width="0.6"/>
<line x1="47.80" y1="248.60" x2="47.80" y2="249.80" stroke="#000" stroke-width="0.35"/>
<line x1="50.72" y1="248.60" x2="50.72" y2="249.80" stroke="#000" stroke-width="0.35"/>
<line x1="52.79" y1="248.60" x2="52.79" y2="249.80" stroke="#000" stroke-width="0.35"/>
<line x1="54.40" y1="248.60" x2="54.40" y2="249.80" stroke="#000" stroke-width="0.35"/>
<line x1="55.72" y1="248.60" x2="55.72" y2="249.80" stroke="#000" stroke-width="0.35"/>
<line x1="56.83" y1="248.60" x2="56.83" y2="249.80" stroke="#000" stroke-width="0.35"/>
<line x1="57.79" y1="248.60" x2="57.79" y2="249.80" stroke="#000" stroke-width="0.35"/>
<line x1="58.64" y1="248.60" x2="58.64" y2="249.80" stroke="#000" stroke-width="0.35"/>
<line x1="64.40" y1="248.60" x2="64.40" y2="249.80" stroke="#000" stroke-width="0.35"/>
<line x1="67.32" y1="248.60" x2="67.32" y2="249.80" stroke="#000" stroke-width="0.35"/>
<line x1="69.39" y1="248.60" x2="69.39" y2="249.80" stroke="#000" stroke-width="0.35"/>
<line x1="71.00" y1="248.60" x2="71.00" y2="249.80" stroke="#000" stroke-width="0.35"/>
<line x1="72.32" y1="248.60" x2="72.32" y2="249.80" stroke="#000" stroke-width="0.35"/>
<line x1="73.43" y1="248.60" x2="73.43" y2="249.80" stroke="#000" stroke-width="0.35"/>
<line x1="74.39" y1="248.60" x2="74.39" y2="249.80" stroke="#000" stroke-width="0.35"/>
<line x1="75.24" y1="248.60" x2="75.24" y2="249.80" stroke="#000" stroke-width="0.35"/>
<line x1="81.00" y1="248.60" x2="81.00" y2="249.80" stroke="#000" stroke-width="0.35"/>
<line x1="83.92" y1="248.60" x2="83.92" y2="249.80" stroke="#000" stroke-width="0.35"/>
<line x1="85.99" y1="248.60" x2="85.99" y2="249.80" stroke="#000" stroke-width="0.35"/>
<line x1="87.60" y1="248.60" x2="87.60" y2="249.80" stroke="#000" stroke-width="0.35"/>
<line x1="88.92" y1="248.60" x2="88.92" y2="249.80" stroke="#000" stroke-width="0.35"/>
<line x1="90.03" y1="248.60" x2="90.03" y2="249.80" stroke="#000" stroke-width="0.35"/>
<line x1="90.99" y1="248.60" x2="90.99" y2="249.80" stroke="#000" stroke-width="0.35"/>
<line x1="91.84" y1="248.60" x2="91.84" y2="249.80" stroke="#000" stroke-width="0.35"/>
<line x1="97.60" y1="248.60" x2="97.60" y2="249.80" stroke="#000" stroke-width="0.35"/>
<line x1="100.52" y1="248.60" x2="100.52" y2="249.80" stroke="#000" stroke-width="0.35"/>
<line x1="102.59" y1="248.60" x2="102.59" y2="249.80" stroke="#000" stroke-width="0.35"/>
<line x1="104.20" y1="248.60" x2="104.20" y2="249.80" stroke="#000" stroke-width="0.35"/>
<line x1="105.52" y1="248.60" x2="105.52" y2="249.80" stroke="#000" stroke-width="0.35"/>
<line x1="106.63" y1="248.60" x2="106.63" y2="249.80" stroke="#000" stroke-width="0.35"/>
<line x1="107.59" y1="248.60" x2="107.59" y2="249.80" stroke="#000" stroke-width="0.35"/>
<line x1="108.44" y1="248.60" x2="108.44" y2="249.80" stroke="#000" stroke-width="0.35"/>
<line x1="114.20" y1="248.60" x2="114.20" y2="249.80" stroke="#000" stroke-width="0.35"/>
<line x1="117.12" y1="248.60" x2="117.12" y2="249.80" stroke="#000" stroke-width="0.35"/>
<line x1="119.19" y1="248.60" x2="119.19" y2="249.80" stroke="#000" stroke-width="0.35"/>
<line x1="120.80" y1="248.60" x2="120.80" y2="249.80" stroke="#000" stroke-width="0.35"/>
<line x1="122.12" y1="248.60" x2="122.12" y2="249.80" stroke="#000" stroke-width="0.35"/>
<line x1="123.23" y1="248.60" x2="123.23" y2="249.80" stroke="#000" stroke-width="0.35"/>
<line x1="124.19" y1="248.60" x2="124.19" y2="249.80" stroke="#000" stroke-width="0.35"/>
<line x1="125.04" y1="248.60" x2="125.04" y2="249.80" stroke="#000" stroke-width="0.35"/>
<text transform="translate(9.50,149.00) scale(0.92,1)" font-size="8.6" text-anchor="middle" font-weight="normal" fill="#3a3a3a"  stroke="#3a3a3a" stroke-width="0.1">iv</text>
<path d="M187.5,248.2 L190.9,244.5 L194.6,236.1 L196.5,227.6 L198.8,210.7 L200.5,193.8 L201.7,176.9 L202.6,170.5 L203.2,176.9 L204.1,193.8 L204.9,210.7 L205.9,227.6 L206.9,241.1 L208.6,247.9Z" fill="#b2b6de" stroke="none" style="mix-blend-mode:multiply"/>
<path d="M187.5,248.2 L190.9,244.5 L194.6,236.1 L196.5,227.6 L198.8,210.7 L200.5,193.8 L201.7,176.9 L202.6,170.5 L203.2,176.9 L204.1,193.8 L204.9,210.7 L205.9,227.6 L206.9,241.1 L208.6,247.9" fill="none" stroke="#46659c" stroke-width="0.85" stroke-linejoin="round" style="mix-blend-mode:multiply"/>
<path d="M192.6,248.2 L196.8,244.5 L201.0,236.1 L202.7,227.6 L204.6,210.7 L205.8,193.8 L206.8,176.9 L207.6,169.8 L208.5,176.9 L209.3,193.8 L210.1,210.7 L211.0,227.6 L211.7,241.1 L212.8,247.9Z" fill="#f5aea6" stroke="none" style="mix-blend-mode:multiply"/>
<path d="M192.6,248.2 L196.8,244.5 L201.0,236.1 L202.7,227.6 L204.6,210.7 L205.8,193.8 L206.8,176.9 L207.6,169.8 L208.5,176.9 L209.3,193.8 L210.1,210.7 L211.0,227.6 L211.7,241.1 L212.8,247.9" fill="none" stroke="#c6203c" stroke-width="0.85" stroke-linejoin="round" style="mix-blend-mode:multiply"/>
<line x1="171.60" y1="154.20" x2="171.60" y2="249.10" stroke="#000" stroke-width="1.15"/>
<line x1="168.80" y1="248.60" x2="259.30" y2="248.60" stroke="#000" stroke-width="1.25"/>
<line x1="168.80" y1="248.60" x2="171.60" y2="248.60" stroke="#000" stroke-width="0.75"/>
<text x="165.40" y="250.20" font-size="5.8" text-anchor="end" font-weight="normal" fill="#222"  stroke="#222" stroke-width="0.14">0</text>
<line x1="168.80" y1="231.16" x2="171.60" y2="231.16" stroke="#000" stroke-width="0.75"/>
<text x="165.40" y="232.76" font-size="5.8" text-anchor="end" font-weight="normal" fill="#222"  stroke="#222" stroke-width="0.14">20</text>
<line x1="168.80" y1="213.72" x2="171.60" y2="213.72" stroke="#000" stroke-width="0.75"/>
<text x="165.40" y="215.32" font-size="5.8" text-anchor="end" font-weight="normal" fill="#222"  stroke="#222" stroke-width="0.14">40</text>
<line x1="168.80" y1="196.28" x2="171.60" y2="196.28" stroke="#000" stroke-width="0.75"/>
<text x="165.40" y="197.88" font-size="5.8" text-anchor="end" font-weight="normal" fill="#222"  stroke="#222" stroke-width="0.14">60</text>
<line x1="168.80" y1="178.84" x2="171.60" y2="178.84" stroke="#000" stroke-width="0.75"/>
<text x="165.40" y="180.44" font-size="5.8" text-anchor="end" font-weight="normal" fill="#222"  stroke="#222" stroke-width="0.14">80</text>
<line x1="168.80" y1="161.40" x2="171.60" y2="161.40" stroke="#000" stroke-width="0.75"/>
<text x="165.40" y="163.00" font-size="5.8" text-anchor="end" font-weight="normal" fill="#222"  stroke="#222" stroke-width="0.14">100</text>
<line x1="170.40" y1="248.60" x2="171.60" y2="248.60" stroke="#000" stroke-width="0.4"/>
<line x1="170.40" y1="245.11" x2="171.60" y2="245.11" stroke="#000" stroke-width="0.4"/>
<line x1="170.40" y1="241.62" x2="171.60" y2="241.62" stroke="#000" stroke-width="0.4"/>
<line x1="170.40" y1="238.14" x2="171.60" y2="238.14" stroke="#000" stroke-width="0.4"/>
<line x1="170.40" y1="234.65" x2="171.60" y2="234.65" stroke="#000" stroke-width="0.4"/>
<line x1="170.40" y1="231.16" x2="171.60" y2="231.16" stroke="#000" stroke-width="0.4"/>
<line x1="170.40" y1="227.67" x2="171.60" y2="227.67" stroke="#000" stroke-width="0.4"/>
<line x1="170.40" y1="224.18" x2="171.60" y2="224.18" stroke="#000" stroke-width="0.4"/>
<line x1="170.40" y1="220.70" x2="171.60" y2="220.70" stroke="#000" stroke-width="0.4"/>
<line x1="170.40" y1="217.21" x2="171.60" y2="217.21" stroke="#000" stroke-width="0.4"/>
<line x1="170.40" y1="213.72" x2="171.60" y2="213.72" stroke="#000" stroke-width="0.4"/>
<line x1="170.40" y1="210.23" x2="171.60" y2="210.23" stroke="#000" stroke-width="0.4"/>
<line x1="170.40" y1="206.74" x2="171.60" y2="206.74" stroke="#000" stroke-width="0.4"/>
<line x1="170.40" y1="203.26" x2="171.60" y2="203.26" stroke="#000" stroke-width="0.4"/>
<line x1="170.40" y1="199.77" x2="171.60" y2="199.77" stroke="#000" stroke-width="0.4"/>
<line x1="170.40" y1="196.28" x2="171.60" y2="196.28" stroke="#000" stroke-width="0.4"/>
<line x1="170.40" y1="192.79" x2="171.60" y2="192.79" stroke="#000" stroke-width="0.4"/>
<line x1="170.40" y1="189.30" x2="171.60" y2="189.30" stroke="#000" stroke-width="0.4"/>
<line x1="170.40" y1="185.82" x2="171.60" y2="185.82" stroke="#000" stroke-width="0.4"/>
<line x1="170.40" y1="182.33" x2="171.60" y2="182.33" stroke="#000" stroke-width="0.4"/>
<line x1="170.40" y1="178.84" x2="171.60" y2="178.84" stroke="#000" stroke-width="0.4"/>
<line x1="170.40" y1="175.35" x2="171.60" y2="175.35" stroke="#000" stroke-width="0.4"/>
<line x1="170.40" y1="171.86" x2="171.60" y2="171.86" stroke="#000" stroke-width="0.4"/>
<line x1="170.40" y1="168.38" x2="171.60" y2="168.38" stroke="#000" stroke-width="0.4"/>
<line x1="170.40" y1="164.89" x2="171.60" y2="164.89" stroke="#000" stroke-width="0.4"/>
<line x1="170.40" y1="161.40" x2="171.60" y2="161.40" stroke="#000" stroke-width="0.4"/>
<line x1="170.40" y1="157.91" x2="171.60" y2="157.91" stroke="#000" stroke-width="0.4"/>
<text x="179.30" y="259.90" font-size="5.6" text-anchor="middle" fill="#222" stroke="#222" stroke-width="0.12">10<tspan dy="-2.4" font-size="3.36">0</tspan></text>
<text x="194.30" y="259.90" font-size="5.6" text-anchor="middle" fill="#222" stroke="#222" stroke-width="0.12">10<tspan dy="-2.4" font-size="3.36">1</tspan></text>
<text x="209.30" y="259.90" font-size="5.6" text-anchor="middle" fill="#222" stroke="#222" stroke-width="0.12">10<tspan dy="-2.4" font-size="3.36">2</tspan></text>
<text x="224.20" y="259.90" font-size="5.6" text-anchor="middle" fill="#222" stroke="#222" stroke-width="0.12">10<tspan dy="-2.4" font-size="3.36">3</tspan></text>
<text x="239.10" y="259.90" font-size="5.6" text-anchor="middle" fill="#222" stroke="#222" stroke-width="0.12">10<tspan dy="-2.4" font-size="3.36">4</tspan></text>
<text x="254.00" y="259.90" font-size="5.6" text-anchor="middle" fill="#222" stroke="#222" stroke-width="0.12">10<tspan dy="-2.4" font-size="3.36">5</tspan></text>
<text x="215.00" y="149.60" font-size="7.7" text-anchor="middle" font-weight="normal" fill="#222"  stroke="#222" stroke-width="0.14">Flotillin-1</text>
<text x="215.50" y="164.90" font-size="6.1" text-anchor="middle" font-weight="normal" fill="#222"  stroke="#222" stroke-width="0.14">MFI ratio = 6.6</text>
<text x="215.50" y="271.70" font-size="8.0" text-anchor="middle" font-weight="bold" fill="#222" textLength="30.5" lengthAdjust="spacingAndGlyphs" stroke="#222" stroke-width="0.0">PE-H FLOT-1</text>
<text transform="translate(149.10,201.70) rotate(-90)" font-size="6.8" text-anchor="middle" font-weight="normal" fill="#222" textLength="49.8" lengthAdjust="spacingAndGlyphs" stroke="#222" stroke-width="0.22">Normalized to mode</text>
<line x1="179.70" y1="248.60" x2="179.70" y2="250.80" stroke="#000" stroke-width="0.6"/>
<line x1="194.70" y1="248.60" x2="194.70" y2="250.80" stroke="#000" stroke-width="0.6"/>
<line x1="209.70" y1="248.60" x2="209.70" y2="250.80" stroke="#000" stroke-width="0.6"/>
<line x1="224.60" y1="248.60" x2="224.60" y2="250.80" stroke="#000" stroke-width="0.6"/>
<line x1="239.50" y1="248.60" x2="239.50" y2="250.80" stroke="#000" stroke-width="0.6"/>
<line x1="254.40" y1="248.60" x2="254.40" y2="250.80" stroke="#000" stroke-width="0.6"/>
<line x1="184.22" y1="248.60" x2="184.22" y2="249.80" stroke="#000" stroke-width="0.35"/>
<line x1="186.86" y1="248.60" x2="186.86" y2="249.80" stroke="#000" stroke-width="0.35"/>
<line x1="188.73" y1="248.60" x2="188.73" y2="249.80" stroke="#000" stroke-width="0.35"/>
<line x1="190.18" y1="248.60" x2="190.18" y2="249.80" stroke="#000" stroke-width="0.35"/>
<line x1="191.37" y1="248.60" x2="191.37" y2="249.80" stroke="#000" stroke-width="0.35"/>
<line x1="192.38" y1="248.60" x2="192.38" y2="249.80" stroke="#000" stroke-width="0.35"/>
<line x1="193.25" y1="248.60" x2="193.25" y2="249.80" stroke="#000" stroke-width="0.35"/>
<line x1="194.01" y1="248.60" x2="194.01" y2="249.80" stroke="#000" stroke-width="0.35"/>
<line x1="199.22" y1="248.60" x2="199.22" y2="249.80" stroke="#000" stroke-width="0.35"/>
<line x1="201.86" y1="248.60" x2="201.86" y2="249.80" stroke="#000" stroke-width="0.35"/>
<line x1="203.73" y1="248.60" x2="203.73" y2="249.80" stroke="#000" stroke-width="0.35"/>
<line x1="205.18" y1="248.60" x2="205.18" y2="249.80" stroke="#000" stroke-width="0.35"/>
<line x1="206.37" y1="248.60" x2="206.37" y2="249.80" stroke="#000" stroke-width="0.35"/>
<line x1="207.38" y1="248.60" x2="207.38" y2="249.80" stroke="#000" stroke-width="0.35"/>
<line x1="208.25" y1="248.60" x2="208.25" y2="249.80" stroke="#000" stroke-width="0.35"/>
<line x1="209.01" y1="248.60" x2="209.01" y2="249.80" stroke="#000" stroke-width="0.35"/>
<line x1="214.19" y1="248.60" x2="214.19" y2="249.80" stroke="#000" stroke-width="0.35"/>
<line x1="216.81" y1="248.60" x2="216.81" y2="249.80" stroke="#000" stroke-width="0.35"/>
<line x1="218.67" y1="248.60" x2="218.67" y2="249.80" stroke="#000" stroke-width="0.35"/>
<line x1="220.11" y1="248.60" x2="220.11" y2="249.80" stroke="#000" stroke-width="0.35"/>
<line x1="221.29" y1="248.60" x2="221.29" y2="249.80" stroke="#000" stroke-width="0.35"/>
<line x1="222.29" y1="248.60" x2="222.29" y2="249.80" stroke="#000" stroke-width="0.35"/>
<line x1="223.16" y1="248.60" x2="223.16" y2="249.80" stroke="#000" stroke-width="0.35"/>
<line x1="223.92" y1="248.60" x2="223.92" y2="249.80" stroke="#000" stroke-width="0.35"/>
<line x1="229.09" y1="248.60" x2="229.09" y2="249.80" stroke="#000" stroke-width="0.35"/>
<line x1="231.71" y1="248.60" x2="231.71" y2="249.80" stroke="#000" stroke-width="0.35"/>
<line x1="233.57" y1="248.60" x2="233.57" y2="249.80" stroke="#000" stroke-width="0.35"/>
<line x1="235.01" y1="248.60" x2="235.01" y2="249.80" stroke="#000" stroke-width="0.35"/>
<line x1="236.19" y1="248.60" x2="236.19" y2="249.80" stroke="#000" stroke-width="0.35"/>
<line x1="237.19" y1="248.60" x2="237.19" y2="249.80" stroke="#000" stroke-width="0.35"/>
<line x1="238.06" y1="248.60" x2="238.06" y2="249.80" stroke="#000" stroke-width="0.35"/>
<line x1="238.82" y1="248.60" x2="238.82" y2="249.80" stroke="#000" stroke-width="0.35"/>
<line x1="243.99" y1="248.60" x2="243.99" y2="249.80" stroke="#000" stroke-width="0.35"/>
<line x1="246.61" y1="248.60" x2="246.61" y2="249.80" stroke="#000" stroke-width="0.35"/>
<line x1="248.47" y1="248.60" x2="248.47" y2="249.80" stroke="#000" stroke-width="0.35"/>
<line x1="249.91" y1="248.60" x2="249.91" y2="249.80" stroke="#000" stroke-width="0.35"/>
<line x1="251.09" y1="248.60" x2="251.09" y2="249.80" stroke="#000" stroke-width="0.35"/>
<line x1="252.09" y1="248.60" x2="252.09" y2="249.80" stroke="#000" stroke-width="0.35"/>
<line x1="252.96" y1="248.60" x2="252.96" y2="249.80" stroke="#000" stroke-width="0.35"/>
<line x1="253.72" y1="248.60" x2="253.72" y2="249.80" stroke="#000" stroke-width="0.35"/>
<line x1="171.90" y1="246.10" x2="172.90" y2="248.60" stroke="#000" stroke-width="0.7"/>
<path d="M432.6,248.3 L437.7,244.5 L440.6,236.1 L441.9,227.6 L444.1,210.7 L446.1,193.8 L448.0,176.9 L449.2,167.1 L450.7,176.9 L452.6,193.8 L454.1,210.7 L455.6,227.6 L456.8,236.1 L458.3,244.5 L459.7,248.3Z" fill="#f5aea6" stroke="none" style="mix-blend-mode:multiply"/>
<path d="M432.6,248.3 L437.7,244.5 L440.6,236.1 L441.9,227.6 L444.1,210.7 L446.1,193.8 L448.0,176.9 L449.2,167.1 L450.7,176.9 L452.6,193.8 L454.1,210.7 L455.6,227.6 L456.8,236.1 L458.3,244.5 L459.7,248.3" fill="none" stroke="#c6203c" stroke-width="0.85" stroke-linejoin="round" style="mix-blend-mode:multiply"/>
<path d="M441.1,248.3 L445.0,244.5 L447.8,236.1 L449.0,227.6 L450.9,210.7 L452.6,193.8 L454.1,176.9 L455.3,168.8 L456.0,171.8 L456.6,171.4 L457.5,176.9 L459.3,193.8 L460.5,210.7 L461.2,219.2 L462.5,227.6 L465.6,232.7 L469.3,236.1 L472.3,239.5 L474.9,242.8 L478.8,246.2 L481.6,248.3Z" fill="#b2b6de" stroke="none" style="mix-blend-mode:multiply"/>
<path d="M441.1,248.3 L445.0,244.5 L447.8,236.1 L449.0,227.6 L450.9,210.7 L452.6,193.8 L454.1,176.9 L455.3,168.8 L456.0,171.8 L456.6,171.4 L457.5,176.9 L459.3,193.8 L460.5,210.7 L461.2,219.2 L462.5,227.6 L465.6,232.7 L469.3,236.1 L472.3,239.5 L474.9,242.8 L478.8,246.2 L481.6,248.3" fill="none" stroke="#46659c" stroke-width="0.85" stroke-linejoin="round" style="mix-blend-mode:multiply"/>
<line x1="422.80" y1="154.20" x2="422.80" y2="249.10" stroke="#000" stroke-width="1.15"/>
<line x1="420.00" y1="248.60" x2="512.90" y2="248.60" stroke="#000" stroke-width="1.25"/>
<line x1="420.00" y1="248.60" x2="422.80" y2="248.60" stroke="#000" stroke-width="0.75"/>
<text x="416.60" y="250.20" font-size="5.8" text-anchor="end" font-weight="normal" fill="#222"  stroke="#222" stroke-width="0.14">0</text>
<line x1="420.00" y1="231.16" x2="422.80" y2="231.16" stroke="#000" stroke-width="0.75"/>
<text x="416.60" y="232.76" font-size="5.8" text-anchor="end" font-weight="normal" fill="#222"  stroke="#222" stroke-width="0.14">20</text>
<line x1="420.00" y1="213.72" x2="422.80" y2="213.72" stroke="#000" stroke-width="0.75"/>
<text x="416.60" y="215.32" font-size="5.8" text-anchor="end" font-weight="normal" fill="#222"  stroke="#222" stroke-width="0.14">40</text>
<line x1="420.00" y1="196.28" x2="422.80" y2="196.28" stroke="#000" stroke-width="0.75"/>
<text x="416.60" y="197.88" font-size="5.8" text-anchor="end" font-weight="normal" fill="#222"  stroke="#222" stroke-width="0.14">60</text>
<line x1="420.00" y1="178.84" x2="422.80" y2="178.84" stroke="#000" stroke-width="0.75"/>
<text x="416.60" y="180.44" font-size="5.8" text-anchor="end" font-weight="normal" fill="#222"  stroke="#222" stroke-width="0.14">80</text>
<line x1="420.00" y1="161.40" x2="422.80" y2="161.40" stroke="#000" stroke-width="0.75"/>
<text x="416.60" y="163.00" font-size="5.8" text-anchor="end" font-weight="normal" fill="#222"  stroke="#222" stroke-width="0.14">100</text>
<line x1="421.60" y1="248.60" x2="422.80" y2="248.60" stroke="#000" stroke-width="0.4"/>
<line x1="421.60" y1="245.11" x2="422.80" y2="245.11" stroke="#000" stroke-width="0.4"/>
<line x1="421.60" y1="241.62" x2="422.80" y2="241.62" stroke="#000" stroke-width="0.4"/>
<line x1="421.60" y1="238.14" x2="422.80" y2="238.14" stroke="#000" stroke-width="0.4"/>
<line x1="421.60" y1="234.65" x2="422.80" y2="234.65" stroke="#000" stroke-width="0.4"/>
<line x1="421.60" y1="231.16" x2="422.80" y2="231.16" stroke="#000" stroke-width="0.4"/>
<line x1="421.60" y1="227.67" x2="422.80" y2="227.67" stroke="#000" stroke-width="0.4"/>
<line x1="421.60" y1="224.18" x2="422.80" y2="224.18" stroke="#000" stroke-width="0.4"/>
<line x1="421.60" y1="220.70" x2="422.80" y2="220.70" stroke="#000" stroke-width="0.4"/>
<line x1="421.60" y1="217.21" x2="422.80" y2="217.21" stroke="#000" stroke-width="0.4"/>
<line x1="421.60" y1="213.72" x2="422.80" y2="213.72" stroke="#000" stroke-width="0.4"/>
<line x1="421.60" y1="210.23" x2="422.80" y2="210.23" stroke="#000" stroke-width="0.4"/>
<line x1="421.60" y1="206.74" x2="422.80" y2="206.74" stroke="#000" stroke-width="0.4"/>
<line x1="421.60" y1="203.26" x2="422.80" y2="203.26" stroke="#000" stroke-width="0.4"/>
<line x1="421.60" y1="199.77" x2="422.80" y2="199.77" stroke="#000" stroke-width="0.4"/>
<line x1="421.60" y1="196.28" x2="422.80" y2="196.28" stroke="#000" stroke-width="0.4"/>
<line x1="421.60" y1="192.79" x2="422.80" y2="192.79" stroke="#000" stroke-width="0.4"/>
<line x1="421.60" y1="189.30" x2="422.80" y2="189.30" stroke="#000" stroke-width="0.4"/>
<line x1="421.60" y1="185.82" x2="422.80" y2="185.82" stroke="#000" stroke-width="0.4"/>
<line x1="421.60" y1="182.33" x2="422.80" y2="182.33" stroke="#000" stroke-width="0.4"/>
<line x1="421.60" y1="178.84" x2="422.80" y2="178.84" stroke="#000" stroke-width="0.4"/>
<line x1="421.60" y1="175.35" x2="422.80" y2="175.35" stroke="#000" stroke-width="0.4"/>
<line x1="421.60" y1="171.86" x2="422.80" y2="171.86" stroke="#000" stroke-width="0.4"/>
<line x1="421.60" y1="168.38" x2="422.80" y2="168.38" stroke="#000" stroke-width="0.4"/>
<line x1="421.60" y1="164.89" x2="422.80" y2="164.89" stroke="#000" stroke-width="0.4"/>
<line x1="421.60" y1="161.40" x2="422.80" y2="161.40" stroke="#000" stroke-width="0.4"/>
<line x1="421.60" y1="157.91" x2="422.80" y2="157.91" stroke="#000" stroke-width="0.4"/>
<text x="432.50" y="259.80" font-size="5.6" text-anchor="middle" font-weight="normal" fill="#222"  stroke="#222" stroke-width="0.14">0</text>
<text x="467.60" y="259.90" font-size="5.6" text-anchor="middle" fill="#222" stroke="#222" stroke-width="0.12">10<tspan dy="-2.4" font-size="3.36">3</tspan></text>
<text x="486.60" y="259.90" font-size="5.6" text-anchor="middle" fill="#222" stroke="#222" stroke-width="0.12">10<tspan dy="-2.4" font-size="3.36">4</tspan></text>
<text x="505.30" y="259.90" font-size="5.6" text-anchor="middle" fill="#222" stroke="#222" stroke-width="0.12">10<tspan dy="-2.4" font-size="3.36">5</tspan></text>
<text x="466.00" y="164.90" font-size="6.1" text-anchor="middle" font-weight="normal" fill="#222"  stroke="#222" stroke-width="0.14">MFI ratio = 3.7 +/&#8722; 0.3</text>
<text x="466.80" y="271.70" font-size="8.0" text-anchor="middle" font-weight="bold" fill="#222" textLength="38.5" lengthAdjust="spacingAndGlyphs" stroke="#222" stroke-width="0.0">PE-H CD19.CAR</text>
<text transform="translate(401.20,201.70) rotate(-90)" font-size="6.8" text-anchor="middle" font-weight="normal" fill="#222" textLength="49.8" lengthAdjust="spacingAndGlyphs" stroke="#222" stroke-width="0.22">Normalized to mode</text>
<line x1="432.50" y1="248.60" x2="432.50" y2="250.80" stroke="#000" stroke-width="0.6"/>
<line x1="468.00" y1="248.60" x2="468.00" y2="250.80" stroke="#000" stroke-width="0.6"/>
<line x1="487.00" y1="248.60" x2="487.00" y2="250.80" stroke="#000" stroke-width="0.6"/>
<line x1="505.70" y1="248.60" x2="505.70" y2="250.80" stroke="#000" stroke-width="0.6"/>
<line x1="454.72" y1="248.60" x2="454.72" y2="249.80" stroke="#000" stroke-width="0.35"/>
<line x1="458.07" y1="248.60" x2="458.07" y2="249.80" stroke="#000" stroke-width="0.35"/>
<line x1="460.44" y1="248.60" x2="460.44" y2="249.80" stroke="#000" stroke-width="0.35"/>
<line x1="462.28" y1="248.60" x2="462.28" y2="249.80" stroke="#000" stroke-width="0.35"/>
<line x1="463.78" y1="248.60" x2="463.78" y2="249.80" stroke="#000" stroke-width="0.35"/>
<line x1="465.06" y1="248.60" x2="465.06" y2="249.80" stroke="#000" stroke-width="0.35"/>
<line x1="466.16" y1="248.60" x2="466.16" y2="249.80" stroke="#000" stroke-width="0.35"/>
<line x1="467.13" y1="248.60" x2="467.13" y2="249.80" stroke="#000" stroke-width="0.35"/>
<line x1="473.72" y1="248.60" x2="473.72" y2="249.80" stroke="#000" stroke-width="0.35"/>
<line x1="477.07" y1="248.60" x2="477.07" y2="249.80" stroke="#000" stroke-width="0.35"/>
<line x1="479.44" y1="248.60" x2="479.44" y2="249.80" stroke="#000" stroke-width="0.35"/>
<line x1="481.28" y1="248.60" x2="481.28" y2="249.80" stroke="#000" stroke-width="0.35"/>
<line x1="482.78" y1="248.60" x2="482.78" y2="249.80" stroke="#000" stroke-width="0.35"/>
<line x1="484.06" y1="248.60" x2="484.06" y2="249.80" stroke="#000" stroke-width="0.35"/>
<line x1="485.16" y1="248.60" x2="485.16" y2="249.80" stroke="#000" stroke-width="0.35"/>
<line x1="486.13" y1="248.60" x2="486.13" y2="249.80" stroke="#000" stroke-width="0.35"/>
<line x1="492.63" y1="248.60" x2="492.63" y2="249.80" stroke="#000" stroke-width="0.35"/>
<line x1="495.92" y1="248.60" x2="495.92" y2="249.80" stroke="#000" stroke-width="0.35"/>
<line x1="498.26" y1="248.60" x2="498.26" y2="249.80" stroke="#000" stroke-width="0.35"/>
<line x1="500.07" y1="248.60" x2="500.07" y2="249.80" stroke="#000" stroke-width="0.35"/>
<line x1="501.55" y1="248.60" x2="501.55" y2="249.80" stroke="#000" stroke-width="0.35"/>
<line x1="502.80" y1="248.60" x2="502.80" y2="249.80" stroke="#000" stroke-width="0.35"/>
<line x1="503.89" y1="248.60" x2="503.89" y2="249.80" stroke="#000" stroke-width="0.35"/>
<line x1="504.84" y1="248.60" x2="504.84" y2="249.80" stroke="#000" stroke-width="0.35"/>
<path d="M248.0,530.5 L254.2,527.2 L257.3,523.6 L259.0,520.1 L261.0,511.2 L263.5,493.4 L265.6,475.6 L266.9,463.1 L268.5,455.1 L269.4,463.1 L270.1,475.6 L271.0,493.4 L272.0,511.2 L272.9,523.6 L274.2,530.5Z" fill="#b2b6de" stroke="none" style="mix-blend-mode:multiply"/>
<path d="M248.0,530.5 L254.2,527.2 L257.3,523.6 L259.0,520.1 L261.0,511.2 L263.5,493.4 L265.6,475.6 L266.9,463.1 L268.5,455.1 L269.4,463.1 L270.1,475.6 L271.0,493.4 L272.0,511.2 L272.9,523.6 L274.2,530.5" fill="none" stroke="#46659c" stroke-width="0.85" stroke-linejoin="round" style="mix-blend-mode:multiply"/>
<path d="M256.9,530.5 L263.1,527.2 L266.7,523.6 L268.5,520.1 L270.2,511.2 L272.0,493.4 L273.3,475.6 L274.3,457.8 L275.6,447.5 L276.7,457.8 L277.5,475.6 L278.4,493.4 L279.5,511.2 L280.4,520.1 L281.8,527.2 L284.5,530.5Z" fill="#f5aea6" stroke="none" style="mix-blend-mode:multiply"/>
<path d="M256.9,530.5 L263.1,527.2 L266.7,523.6 L268.5,520.1 L270.2,511.2 L272.0,493.4 L273.3,475.6 L274.3,457.8 L275.6,447.5 L276.7,457.8 L277.5,475.6 L278.4,493.4 L279.5,511.2 L280.4,520.1 L281.8,527.2 L284.5,530.5" fill="none" stroke="#c6203c" stroke-width="0.85" stroke-linejoin="round" style="mix-blend-mode:multiply"/>
<line x1="241.20" y1="436.20" x2="241.20" y2="531.20" stroke="#000" stroke-width="1.15"/>
<line x1="238.40" y1="530.70" x2="328.80" y2="530.70" stroke="#000" stroke-width="1.25"/>
<line x1="238.40" y1="530.70" x2="241.20" y2="530.70" stroke="#000" stroke-width="0.75"/>
<text x="235.00" y="532.30" font-size="5.8" text-anchor="end" font-weight="normal" fill="#222"  stroke="#222" stroke-width="0.14">0</text>
<line x1="238.40" y1="513.26" x2="241.20" y2="513.26" stroke="#000" stroke-width="0.75"/>
<text x="235.00" y="514.86" font-size="5.8" text-anchor="end" font-weight="normal" fill="#222"  stroke="#222" stroke-width="0.14">20</text>
<line x1="238.40" y1="495.82" x2="241.20" y2="495.82" stroke="#000" stroke-width="0.75"/>
<text x="235.00" y="497.42" font-size="5.8" text-anchor="end" font-weight="normal" fill="#222"  stroke="#222" stroke-width="0.14">40</text>
<line x1="238.40" y1="478.38" x2="241.20" y2="478.38" stroke="#000" stroke-width="0.75"/>
<text x="235.00" y="479.98" font-size="5.8" text-anchor="end" font-weight="normal" fill="#222"  stroke="#222" stroke-width="0.14">60</text>
<line x1="238.40" y1="460.94" x2="241.20" y2="460.94" stroke="#000" stroke-width="0.75"/>
<text x="235.00" y="462.54" font-size="5.8" text-anchor="end" font-weight="normal" fill="#222"  stroke="#222" stroke-width="0.14">80</text>
<line x1="238.40" y1="443.50" x2="241.20" y2="443.50" stroke="#000" stroke-width="0.75"/>
<text x="235.00" y="445.10" font-size="5.8" text-anchor="end" font-weight="normal" fill="#222"  stroke="#222" stroke-width="0.14">100</text>
<line x1="240.00" y1="530.70" x2="241.20" y2="530.70" stroke="#000" stroke-width="0.4"/>
<line x1="240.00" y1="527.21" x2="241.20" y2="527.21" stroke="#000" stroke-width="0.4"/>
<line x1="240.00" y1="523.72" x2="241.20" y2="523.72" stroke="#000" stroke-width="0.4"/>
<line x1="240.00" y1="520.24" x2="241.20" y2="520.24" stroke="#000" stroke-width="0.4"/>
<line x1="240.00" y1="516.75" x2="241.20" y2="516.75" stroke="#000" stroke-width="0.4"/>
<line x1="240.00" y1="513.26" x2="241.20" y2="513.26" stroke="#000" stroke-width="0.4"/>
<line x1="240.00" y1="509.77" x2="241.20" y2="509.77" stroke="#000" stroke-width="0.4"/>
<line x1="240.00" y1="506.28" x2="241.20" y2="506.28" stroke="#000" stroke-width="0.4"/>
<line x1="240.00" y1="502.80" x2="241.20" y2="502.80" stroke="#000" stroke-width="0.4"/>
<line x1="240.00" y1="499.31" x2="241.20" y2="499.31" stroke="#000" stroke-width="0.4"/>
<line x1="240.00" y1="495.82" x2="241.20" y2="495.82" stroke="#000" stroke-width="0.4"/>
<line x1="240.00" y1="492.33" x2="241.20" y2="492.33" stroke="#000" stroke-width="0.4"/>
<line x1="240.00" y1="488.84" x2="241.20" y2="488.84" stroke="#000" stroke-width="0.4"/>
<line x1="240.00" y1="485.36" x2="241.20" y2="485.36" stroke="#000" stroke-width="0.4"/>
<line x1="240.00" y1="481.87" x2="241.20" y2="481.87" stroke="#000" stroke-width="0.4"/>
<line x1="240.00" y1="478.38" x2="241.20" y2="478.38" stroke="#000" stroke-width="0.4"/>
<line x1="240.00" y1="474.89" x2="241.20" y2="474.89" stroke="#000" stroke-width="0.4"/>
<line x1="240.00" y1="471.40" x2="241.20" y2="471.40" stroke="#000" stroke-width="0.4"/>
<line x1="240.00" y1="467.92" x2="241.20" y2="467.92" stroke="#000" stroke-width="0.4"/>
<line x1="240.00" y1="464.43" x2="241.20" y2="464.43" stroke="#000" stroke-width="0.4"/>
<line x1="240.00" y1="460.94" x2="241.20" y2="460.94" stroke="#000" stroke-width="0.4"/>
<line x1="240.00" y1="457.45" x2="241.20" y2="457.45" stroke="#000" stroke-width="0.4"/>
<line x1="240.00" y1="453.96" x2="241.20" y2="453.96" stroke="#000" stroke-width="0.4"/>
<line x1="240.00" y1="450.48" x2="241.20" y2="450.48" stroke="#000" stroke-width="0.4"/>
<line x1="240.00" y1="446.99" x2="241.20" y2="446.99" stroke="#000" stroke-width="0.4"/>
<line x1="240.00" y1="443.50" x2="241.20" y2="443.50" stroke="#000" stroke-width="0.4"/>
<line x1="240.00" y1="440.01" x2="241.20" y2="440.01" stroke="#000" stroke-width="0.4"/>
<text x="247.50" y="542.00" font-size="5.6" text-anchor="middle" fill="#222" stroke="#222" stroke-width="0.12">10<tspan dy="-2.4" font-size="3.36">0</tspan></text>
<text x="267.20" y="542.00" font-size="5.6" text-anchor="middle" fill="#222" stroke="#222" stroke-width="0.12">10<tspan dy="-2.4" font-size="3.36">2</tspan></text>
<text x="293.30" y="542.00" font-size="5.6" text-anchor="middle" fill="#222" stroke="#222" stroke-width="0.12">10<tspan dy="-2.4" font-size="3.36">4</tspan></text>
<text x="314.80" y="542.00" font-size="5.6" text-anchor="middle" fill="#222" stroke="#222" stroke-width="0.12">10<tspan dy="-2.4" font-size="3.36">6</tspan></text>
<text x="285.30" y="431.50" font-size="8.5" text-anchor="middle" font-weight="normal" fill="#222"  stroke="#222" stroke-width="0.14">CD63</text>
<text x="284.60" y="445.40" font-size="6.1" text-anchor="middle" font-weight="normal" fill="#222"  stroke="#222" stroke-width="0.14">MFI ratio = 2.4</text>
<text x="285.30" y="553.80" font-size="8.0" text-anchor="middle" font-weight="bold" fill="#222" textLength="35.8" lengthAdjust="spacingAndGlyphs" stroke="#222" stroke-width="0.0">BV610-H CD63</text>
<text transform="translate(221.00,483.80) rotate(-90)" font-size="6.8" text-anchor="middle" font-weight="normal" fill="#222" textLength="49.8" lengthAdjust="spacingAndGlyphs" stroke="#222" stroke-width="0.22">Normalized to mode</text>
<line x1="247.90" y1="530.70" x2="247.90" y2="532.90" stroke="#000" stroke-width="0.6"/>
<line x1="259.12" y1="530.70" x2="259.12" y2="532.90" stroke="#000" stroke-width="0.6"/>
<line x1="270.33" y1="530.70" x2="270.33" y2="532.90" stroke="#000" stroke-width="0.6"/>
<line x1="281.55" y1="530.70" x2="281.55" y2="532.90" stroke="#000" stroke-width="0.6"/>
<line x1="292.77" y1="530.70" x2="292.77" y2="532.90" stroke="#000" stroke-width="0.6"/>
<line x1="303.98" y1="530.70" x2="303.98" y2="532.90" stroke="#000" stroke-width="0.6"/>
<line x1="315.20" y1="530.70" x2="315.20" y2="532.90" stroke="#000" stroke-width="0.6"/>
<line x1="251.28" y1="530.70" x2="251.28" y2="531.90" stroke="#000" stroke-width="0.35"/>
<line x1="253.25" y1="530.70" x2="253.25" y2="531.90" stroke="#000" stroke-width="0.35"/>
<line x1="254.65" y1="530.70" x2="254.65" y2="531.90" stroke="#000" stroke-width="0.35"/>
<line x1="255.74" y1="530.70" x2="255.74" y2="531.90" stroke="#000" stroke-width="0.35"/>
<line x1="256.63" y1="530.70" x2="256.63" y2="531.90" stroke="#000" stroke-width="0.35"/>
<line x1="257.38" y1="530.70" x2="257.38" y2="531.90" stroke="#000" stroke-width="0.35"/>
<line x1="258.03" y1="530.70" x2="258.03" y2="531.90" stroke="#000" stroke-width="0.35"/>
<line x1="258.60" y1="530.70" x2="258.60" y2="531.90" stroke="#000" stroke-width="0.35"/>
<line x1="262.49" y1="530.70" x2="262.49" y2="531.90" stroke="#000" stroke-width="0.35"/>
<line x1="264.47" y1="530.70" x2="264.47" y2="531.90" stroke="#000" stroke-width="0.35"/>
<line x1="265.87" y1="530.70" x2="265.87" y2="531.90" stroke="#000" stroke-width="0.35"/>
<line x1="266.96" y1="530.70" x2="266.96" y2="531.90" stroke="#000" stroke-width="0.35"/>
<line x1="267.84" y1="530.70" x2="267.84" y2="531.90" stroke="#000" stroke-width="0.35"/>
<line x1="268.60" y1="530.70" x2="268.60" y2="531.90" stroke="#000" stroke-width="0.35"/>
<line x1="269.25" y1="530.70" x2="269.25" y2="531.90" stroke="#000" stroke-width="0.35"/>
<line x1="269.82" y1="530.70" x2="269.82" y2="531.90" stroke="#000" stroke-width="0.35"/>
<line x1="273.71" y1="530.70" x2="273.71" y2="531.90" stroke="#000" stroke-width="0.35"/>
<line x1="275.69" y1="530.70" x2="275.69" y2="531.90" stroke="#000" stroke-width="0.35"/>
<line x1="277.09" y1="530.70" x2="277.09" y2="531.90" stroke="#000" stroke-width="0.35"/>
<line x1="278.17" y1="530.70" x2="278.17" y2="531.90" stroke="#000" stroke-width="0.35"/>
<line x1="279.06" y1="530.70" x2="279.06" y2="531.90" stroke="#000" stroke-width="0.35"/>
<line x1="279.81" y1="530.70" x2="279.81" y2="531.90" stroke="#000" stroke-width="0.35"/>
<line x1="280.46" y1="530.70" x2="280.46" y2="531.90" stroke="#000" stroke-width="0.35"/>
<line x1="281.04" y1="530.70" x2="281.04" y2="531.90" stroke="#000" stroke-width="0.35"/>
<line x1="284.93" y1="530.70" x2="284.93" y2="531.90" stroke="#000" stroke-width="0.35"/>
<line x1="286.90" y1="530.70" x2="286.90" y2="531.90" stroke="#000" stroke-width="0.35"/>
<line x1="288.30" y1="530.70" x2="288.30" y2="531.90" stroke="#000" stroke-width="0.35"/>
<line x1="289.39" y1="530.70" x2="289.39" y2="531.90" stroke="#000" stroke-width="0.35"/>
<line x1="290.28" y1="530.70" x2="290.28" y2="531.90" stroke="#000" stroke-width="0.35"/>
<line x1="291.03" y1="530.70" x2="291.03" y2="531.90" stroke="#000" stroke-width="0.35"/>
<line x1="291.68" y1="530.70" x2="291.68" y2="531.90" stroke="#000" stroke-width="0.35"/>
<line x1="292.25" y1="530.70" x2="292.25" y2="531.90" stroke="#000" stroke-width="0.35"/>
<line x1="296.14" y1="530.70" x2="296.14" y2="531.90" stroke="#000" stroke-width="0.35"/>
<line x1="298.12" y1="530.70" x2="298.12" y2="531.90" stroke="#000" stroke-width="0.35"/>
<line x1="299.52" y1="530.70" x2="299.52" y2="531.90" stroke="#000" stroke-width="0.35"/>
<line x1="300.61" y1="530.70" x2="300.61" y2="531.90" stroke="#000" stroke-width="0.35"/>
<line x1="301.49" y1="530.70" x2="301.49" y2="531.90" stroke="#000" stroke-width="0.35"/>
<line x1="302.25" y1="530.70" x2="302.25" y2="531.90" stroke="#000" stroke-width="0.35"/>
<line x1="302.90" y1="530.70" x2="302.90" y2="531.90" stroke="#000" stroke-width="0.35"/>
<line x1="303.47" y1="530.70" x2="303.47" y2="531.90" stroke="#000" stroke-width="0.35"/>
<line x1="307.36" y1="530.70" x2="307.36" y2="531.90" stroke="#000" stroke-width="0.35"/>
<line x1="309.34" y1="530.70" x2="309.34" y2="531.90" stroke="#000" stroke-width="0.35"/>
<line x1="310.74" y1="530.70" x2="310.74" y2="531.90" stroke="#000" stroke-width="0.35"/>
<line x1="311.82" y1="530.70" x2="311.82" y2="531.90" stroke="#000" stroke-width="0.35"/>
<line x1="312.71" y1="530.70" x2="312.71" y2="531.90" stroke="#000" stroke-width="0.35"/>
<line x1="313.46" y1="530.70" x2="313.46" y2="531.90" stroke="#000" stroke-width="0.35"/>
<line x1="314.11" y1="530.70" x2="314.11" y2="531.90" stroke="#000" stroke-width="0.35"/>
<line x1="314.69" y1="530.70" x2="314.69" y2="531.90" stroke="#000" stroke-width="0.35"/>
<text transform="translate(207.20,426.70) scale(0.92,1)" font-size="8.6" text-anchor="middle" font-weight="normal" fill="#3a3a3a"  stroke="#3a3a3a" stroke-width="0.1">iv</text>
<path d="M422.8,530.5 L423.9,520.1 L424.9,493.4 L426.0,466.7 L426.5,448.9 L427.4,466.7 L428.5,493.4 L429.6,520.1 L430.8,530.5Z" fill="#b2b6de" stroke="none" style="mix-blend-mode:multiply"/>
<path d="M422.8,530.5 L423.9,520.1 L424.9,493.4 L426.0,466.7 L426.5,448.9 L427.4,466.7 L428.5,493.4 L429.6,520.1 L430.8,530.5" fill="none" stroke="#46659c" stroke-width="0.85" stroke-linejoin="round" style="mix-blend-mode:multiply"/>
<path d="M423.3,530.5 L424.9,520.1 L426.4,493.4 L427.4,466.7 L428.1,448.5 L429.2,466.7 L430.4,493.4 L432.0,520.1 L433.1,527.2 L434.4,530.5Z" fill="#f5aea6" stroke="none" style="mix-blend-mode:multiply"/>
<path d="M423.3,530.5 L424.9,520.1 L426.4,493.4 L427.4,466.7 L428.1,448.5 L429.2,466.7 L430.4,493.4 L432.0,520.1 L433.1,527.2 L434.4,530.5" fill="none" stroke="#c6203c" stroke-width="0.85" stroke-linejoin="round" style="mix-blend-mode:multiply"/>
<line x1="397.10" y1="436.20" x2="397.10" y2="531.20" stroke="#000" stroke-width="1.15"/>
<line x1="394.30" y1="530.70" x2="486.20" y2="530.70" stroke="#000" stroke-width="1.25"/>
<line x1="394.30" y1="530.70" x2="397.10" y2="530.70" stroke="#000" stroke-width="0.75"/>
<text x="390.90" y="532.30" font-size="5.8" text-anchor="end" font-weight="normal" fill="#222"  stroke="#222" stroke-width="0.14">0</text>
<line x1="394.30" y1="513.26" x2="397.10" y2="513.26" stroke="#000" stroke-width="0.75"/>
<text x="390.90" y="514.86" font-size="5.8" text-anchor="end" font-weight="normal" fill="#222"  stroke="#222" stroke-width="0.14">20</text>
<line x1="394.30" y1="495.82" x2="397.10" y2="495.82" stroke="#000" stroke-width="0.75"/>
<text x="390.90" y="497.42" font-size="5.8" text-anchor="end" font-weight="normal" fill="#222"  stroke="#222" stroke-width="0.14">40</text>
<line x1="394.30" y1="478.38" x2="397.10" y2="478.38" stroke="#000" stroke-width="0.75"/>
<text x="390.90" y="479.98" font-size="5.8" text-anchor="end" font-weight="normal" fill="#222"  stroke="#222" stroke-width="0.14">60</text>
<line x1="394.30" y1="460.94" x2="397.10" y2="460.94" stroke="#000" stroke-width="0.75"/>
<text x="390.90" y="462.54" font-size="5.8" text-anchor="end" font-weight="normal" fill="#222"  stroke="#222" stroke-width="0.14">80</text>
<line x1="394.30" y1="443.50" x2="397.10" y2="443.50" stroke="#000" stroke-width="0.75"/>
<text x="390.90" y="445.10" font-size="5.8" text-anchor="end" font-weight="normal" fill="#222"  stroke="#222" stroke-width="0.14">100</text>
<line x1="395.90" y1="530.70" x2="397.10" y2="530.70" stroke="#000" stroke-width="0.4"/>
<line x1="395.90" y1="527.21" x2="397.10" y2="527.21" stroke="#000" stroke-width="0.4"/>
<line x1="395.90" y1="523.72" x2="397.10" y2="523.72" stroke="#000" stroke-width="0.4"/>
<line x1="395.90" y1="520.24" x2="397.10" y2="520.24" stroke="#000" stroke-width="0.4"/>
<line x1="395.90" y1="516.75" x2="397.10" y2="516.75" stroke="#000" stroke-width="0.4"/>
<line x1="395.90" y1="513.26" x2="397.10" y2="513.26" stroke="#000" stroke-width="0.4"/>
<line x1="395.90" y1="509.77" x2="397.10" y2="509.77" stroke="#000" stroke-width="0.4"/>
<line x1="395.90" y1="506.28" x2="397.10" y2="506.28" stroke="#000" stroke-width="0.4"/>
<line x1="395.90" y1="502.80" x2="397.10" y2="502.80" stroke="#000" stroke-width="0.4"/>
<line x1="395.90" y1="499.31" x2="397.10" y2="499.31" stroke="#000" stroke-width="0.4"/>
<line x1="395.90" y1="495.82" x2="397.10" y2="495.82" stroke="#000" stroke-width="0.4"/>
<line x1="395.90" y1="492.33" x2="397.10" y2="492.33" stroke="#000" stroke-width="0.4"/>
<line x1="395.90" y1="488.84" x2="397.10" y2="488.84" stroke="#000" stroke-width="0.4"/>
<line x1="395.90" y1="485.36" x2="397.10" y2="485.36" stroke="#000" stroke-width="0.4"/>
<line x1="395.90" y1="481.87" x2="397.10" y2="481.87" stroke="#000" stroke-width="0.4"/>
<line x1="395.90" y1="478.38" x2="397.10" y2="478.38" stroke="#000" stroke-width="0.4"/>
<line x1="395.90" y1="474.89" x2="397.10" y2="474.89" stroke="#000" stroke-width="0.4"/>
<line x1="395.90" y1="471.40" x2="397.10" y2="471.40" stroke="#000" stroke-width="0.4"/>
<line x1="395.90" y1="467.92" x2="397.10" y2="467.92" stroke="#000" stroke-width="0.4"/>
<line x1="395.90" y1="464.43" x2="397.10" y2="464.43" stroke="#000" stroke-width="0.4"/>
<line x1="395.90" y1="460.94" x2="397.10" y2="460.94" stroke="#000" stroke-width="0.4"/>
<line x1="395.90" y1="457.45" x2="397.10" y2="457.45" stroke="#000" stroke-width="0.4"/>
<line x1="395.90" y1="453.96" x2="397.10" y2="453.96" stroke="#000" stroke-width="0.4"/>
<line x1="395.90" y1="450.48" x2="397.10" y2="450.48" stroke="#000" stroke-width="0.4"/>
<line x1="395.90" y1="446.99" x2="397.10" y2="446.99" stroke="#000" stroke-width="0.4"/>
<line x1="395.90" y1="443.50" x2="397.10" y2="443.50" stroke="#000" stroke-width="0.4"/>
<line x1="395.90" y1="440.01" x2="397.10" y2="440.01" stroke="#000" stroke-width="0.4"/>
<text x="404.30" y="542.00" font-size="5.6" text-anchor="middle" fill="#222" stroke="#222" stroke-width="0.12">10<tspan dy="-2.4" font-size="3.36">-3</tspan></text>
<text x="425.40" y="541.90" font-size="5.6" text-anchor="middle" font-weight="normal" fill="#222"  stroke="#222" stroke-width="0.14">0</text>
<text x="441.10" y="542.00" font-size="5.6" text-anchor="middle" fill="#222" stroke="#222" stroke-width="0.12">10<tspan dy="-2.4" font-size="3.36">3</tspan></text>
<text x="473.50" y="542.00" font-size="5.6" text-anchor="middle" fill="#222" stroke="#222" stroke-width="0.12">10<tspan dy="-2.4" font-size="3.36">4</tspan></text>
<text x="441.50" y="431.20" font-size="7.7" text-anchor="middle" font-weight="normal" fill="#222"  stroke="#222" stroke-width="0.14">Flotillin-1</text>
<text x="440.20" y="445.40" font-size="6.1" text-anchor="middle" font-weight="normal" fill="#222"  stroke="#222" stroke-width="0.14">MFI ratio = 7.3</text>
<text x="441.00" y="553.80" font-size="8.0" text-anchor="middle" font-weight="bold" fill="#222" textLength="30.5" lengthAdjust="spacingAndGlyphs" stroke="#222" stroke-width="0.0">PE-H FLOT-1</text>
<text transform="translate(376.10,483.80) rotate(-90)" font-size="6.8" text-anchor="middle" font-weight="normal" fill="#222" textLength="49.8" lengthAdjust="spacingAndGlyphs" stroke="#222" stroke-width="0.22">Normalized to mode</text>
<line x1="404.70" y1="530.70" x2="404.70" y2="532.90" stroke="#000" stroke-width="0.6"/>
<line x1="425.40" y1="530.70" x2="425.40" y2="532.90" stroke="#000" stroke-width="0.6"/>
<line x1="441.50" y1="530.70" x2="441.50" y2="532.90" stroke="#000" stroke-width="0.6"/>
<line x1="473.90" y1="530.70" x2="473.90" y2="532.90" stroke="#000" stroke-width="0.6"/>
<line x1="451.25" y1="530.70" x2="451.25" y2="531.90" stroke="#000" stroke-width="0.35"/>
<line x1="456.96" y1="530.70" x2="456.96" y2="531.90" stroke="#000" stroke-width="0.35"/>
<line x1="461.01" y1="530.70" x2="461.01" y2="531.90" stroke="#000" stroke-width="0.35"/>
<line x1="464.15" y1="530.70" x2="464.15" y2="531.90" stroke="#000" stroke-width="0.35"/>
<line x1="466.71" y1="530.70" x2="466.71" y2="531.90" stroke="#000" stroke-width="0.35"/>
<line x1="468.88" y1="530.70" x2="468.88" y2="531.90" stroke="#000" stroke-width="0.35"/>
<line x1="470.76" y1="530.70" x2="470.76" y2="531.90" stroke="#000" stroke-width="0.35"/>
<line x1="472.42" y1="530.70" x2="472.42" y2="531.90" stroke="#000" stroke-width="0.35"/>
<line x1="405.40" y1="530.70" x2="405.40" y2="531.90" stroke="#000" stroke-width="0.35"/>
<line x1="406.18" y1="530.70" x2="406.18" y2="531.90" stroke="#000" stroke-width="0.35"/>
<line x1="407.07" y1="530.70" x2="407.07" y2="531.90" stroke="#000" stroke-width="0.35"/>
<line x1="408.09" y1="530.70" x2="408.09" y2="531.90" stroke="#000" stroke-width="0.35"/>
<line x1="409.31" y1="530.70" x2="409.31" y2="531.90" stroke="#000" stroke-width="0.35"/>
<line x1="410.79" y1="530.70" x2="410.79" y2="531.90" stroke="#000" stroke-width="0.35"/>
<line x1="412.70" y1="530.70" x2="412.70" y2="531.90" stroke="#000" stroke-width="0.35"/>
<line x1="415.39" y1="530.70" x2="415.39" y2="531.90" stroke="#000" stroke-width="0.35"/>
<line x1="420.00" y1="530.70" x2="420.00" y2="531.90" stroke="#000" stroke-width="0.35"/>
<path d="M421.5,530.8 l1,-1.6 l1,1.2 l0.8,-1.5 l0.9,1.9Z" fill="#111"/>
<clipPath id="tem"><rect x="278.6" y="162.9" width="97.00" height="87.70"/></clipPath>
<g clip-path="url(#tem)">
<rect x="278.6" y="162.9" width="97.00" height="87.70" fill="#969696"/>
<ellipse cx="368" cy="196" rx="10" ry="20" fill="#c9c9c9" filter="url(#b3)"/>
<ellipse cx="328" cy="168" rx="12" ry="5" fill="#aaaaaa" filter="url(#b3)"/>
<ellipse cx="287" cy="198" rx="7" ry="7" fill="#a6a6a6" filter="url(#b3)"/>
<ellipse cx="285" cy="228" rx="6" ry="8" fill="#8e8e8e" filter="url(#b3)"/>
<path d="M340,251 C344,240 348,230 356,222 C364,215 372,213 377,211 L377,252 Z" fill="#d6d6d6" filter="url(#b3)"/>
<path d="M354,252 C356,242 362,234 378,228 L378,253 Z" fill="#efefef" filter="url(#b3)"/>
<ellipse cx="298" cy="178" rx="16" ry="12" fill="#6e6e6e" opacity="0.55" filter="url(#b3)"/>
<ellipse cx="343" cy="184" rx="14" ry="14" fill="#6e6e6e" opacity="0.55" filter="url(#b3)"/>
<ellipse cx="294" cy="216" rx="12" ry="9" fill="#6e6e6e" opacity="0.55" filter="url(#b3)"/>
<ellipse cx="312" cy="218" rx="9" ry="12" fill="#6e6e6e" opacity="0.55" filter="url(#b3)"/>
<ellipse cx="330" cy="214" rx="10" ry="8" fill="#6e6e6e" opacity="0.55" filter="url(#b3)"/>
<ellipse cx="312" cy="244" rx="20" ry="6" fill="#6e6e6e" opacity="0.55" filter="url(#b3)"/>
<ellipse cx="292" cy="170" rx="7" ry="4" fill="#505050" opacity="0.9" filter="url(#b2)"/>
<ellipse cx="300" cy="178" rx="8" ry="6" fill="#484848" opacity="0.9" filter="url(#b2)"/>
<ellipse cx="308" cy="186" rx="6" ry="5" fill="#505050" opacity="0.9" filter="url(#b2)"/>
<ellipse cx="297" cy="186" rx="5" ry="4" fill="#585858" opacity="0.9" filter="url(#b2)"/>
<ellipse cx="288" cy="180" rx="3" ry="5" fill="#606060" opacity="0.9" filter="url(#b2)"/>
<ellipse cx="334" cy="175" rx="5" ry="6" fill="#545454" opacity="0.9" filter="url(#b2)"/>
<ellipse cx="341" cy="169" rx="8" ry="3.5" fill="#5a5a5a" opacity="0.9" filter="url(#b2)"/>
<ellipse cx="350" cy="178" rx="4" ry="7" fill="#585858" opacity="0.9" filter="url(#b2)"/>
<ellipse cx="345" cy="190" rx="7" ry="5" fill="#4c4c4c" opacity="0.9" filter="url(#b2)"/>
<ellipse cx="337" cy="187" rx="4" ry="5" fill="#585858" opacity="0.9" filter="url(#b2)"/>
<ellipse cx="352" cy="197" rx="5" ry="4" fill="#505050" opacity="0.9" filter="url(#b2)"/>
<ellipse cx="363" cy="171" rx="8" ry="5" fill="#4a4a4a" opacity="0.9" filter="url(#b2)"/>
<ellipse cx="371" cy="167" rx="4" ry="3" fill="#5a5a5a" opacity="0.9" filter="url(#b2)"/>
<ellipse cx="292" cy="215" rx="8" ry="6" fill="#545454" opacity="0.9" filter="url(#b2)"/>
<ellipse cx="300" cy="222" rx="5" ry="5" fill="#4e4e4e" opacity="0.9" filter="url(#b2)"/>
<ellipse cx="287" cy="210" rx="4" ry="4" fill="#666" opacity="0.9" filter="url(#b2)"/>
<ellipse cx="313" cy="232" rx="4" ry="4" fill="#5a5a5a" opacity="0.9" filter="url(#b2)"/>
<ellipse cx="322" cy="204" rx="5" ry="4" fill="#6a6a6a" opacity="0.9" filter="url(#b2)"/>
<ellipse cx="318" cy="192" rx="4" ry="5" fill="#7a7a7a" opacity="0.9" filter="url(#b2)"/>
<ellipse cx="328" cy="196" rx="4" ry="4" fill="#6c6c6c" opacity="0.9" filter="url(#b2)"/>
<path d="M333,206 L346,204.5 L358,208.5 L356,214 L347,214 L341,219 L336,227 L331,225 L334,216 L339,210 Z" fill="#3a3a3a" opacity="0.85" filter="url(#b2)"/>
<path d="M293,244 L299,238 L310,239.5 L322,237.5 L332,240 L336,246 L330,251 L294,251 Z" fill="#343434" opacity="0.9" filter="url(#b2)"/>
<path d="M279,248.5 L292,247.5 L292,251 L279,251 Z" fill="#555" opacity="0.8" filter="url(#b1)"/>
<circle cx="284.7" cy="172.5" r="3.8" fill="#555" opacity="0.38" filter="url(#b2)"/>
<circle cx="292.2" cy="174.1" r="3.4" fill="#555" opacity="0.38" filter="url(#b2)"/>
<circle cx="297.2" cy="179.2" r="3.4" fill="#555" opacity="0.38" filter="url(#b2)"/>
<circle cx="304.3" cy="169.1" r="3.6" fill="#555" opacity="0.38" filter="url(#b2)"/>
<circle cx="301.3" cy="180.2" r="3.2" fill="#555" opacity="0.38" filter="url(#b2)"/>
<circle cx="307.3" cy="182.2" r="3.4" fill="#555" opacity="0.38" filter="url(#b2)"/>
<circle cx="310.3" cy="186.3" r="3.2" fill="#555" opacity="0.38" filter="url(#b2)"/>
<circle cx="293.2" cy="185.2" r="3.2" fill="#555" opacity="0.38" filter="url(#b2)"/>
<circle cx="312.4" cy="190.3" r="3.2" fill="#555" opacity="0.38" filter="url(#b2)"/>
<circle cx="335.6" cy="175.1" r="3.6" fill="#555" opacity="0.38" filter="url(#b2)"/>
<circle cx="344.7" cy="174.1" r="4.2" fill="#555" opacity="0.38" filter="url(#b2)"/>
<circle cx="349.7" cy="180.2" r="3.4" fill="#555" opacity="0.38" filter="url(#b2)"/>
<circle cx="341.6" cy="182.2" r="3.4" fill="#555" opacity="0.38" filter="url(#b2)"/>
<circle cx="337.6" cy="188.3" r="3.4" fill="#555" opacity="0.38" filter="url(#b2)"/>
<circle cx="346.7" cy="190.3" r="3.4" fill="#555" opacity="0.38" filter="url(#b2)"/>
<circle cx="350.7" cy="195.3" r="3.2" fill="#555" opacity="0.38" filter="url(#b2)"/>
<circle cx="341.6" cy="195.3" r="3.2" fill="#555" opacity="0.38" filter="url(#b2)"/>
<circle cx="311.3" cy="208.5" r="4.4" fill="#555" opacity="0.38" filter="url(#b2)"/>
<circle cx="308.3" cy="214.5" r="4.8" fill="#555" opacity="0.38" filter="url(#b2)"/>
<circle cx="312.8" cy="216.8" r="3.8" fill="#555" opacity="0.38" filter="url(#b2)"/>
<circle cx="306.3" cy="222.6" r="3.8" fill="#555" opacity="0.38" filter="url(#b2)"/>
<circle cx="307.3" cy="227.7" r="3.4" fill="#555" opacity="0.38" filter="url(#b2)"/>
<circle cx="318.4" cy="197.4" r="3.4" fill="#555" opacity="0.38" filter="url(#b2)"/>
<circle cx="322.5" cy="200.4" r="3.4" fill="#555" opacity="0.38" filter="url(#b2)"/>
<circle cx="328.5" cy="208.5" r="4.3" fill="#555" opacity="0.38" filter="url(#b2)"/>
<circle cx="335.6" cy="209.5" r="3.8" fill="#555" opacity="0.38" filter="url(#b2)"/>
<circle cx="340.6" cy="210.5" r="3.6" fill="#555" opacity="0.38" filter="url(#b2)"/>
<circle cx="333.6" cy="216.5" r="3.4" fill="#555" opacity="0.38" filter="url(#b2)"/>
<circle cx="286.1" cy="211.5" r="3.2" fill="#555" opacity="0.38" filter="url(#b2)"/>
<circle cx="291.2" cy="209.5" r="3.2" fill="#555" opacity="0.38" filter="url(#b2)"/>
<circle cx="295.2" cy="213.5" r="3.2" fill="#555" opacity="0.38" filter="url(#b2)"/>
<circle cx="300.2" cy="211.5" r="3.2" fill="#555" opacity="0.38" filter="url(#b2)"/>
<circle cx="297.2" cy="218.6" r="3.2" fill="#555" opacity="0.38" filter="url(#b2)"/>
<circle cx="289.1" cy="218.6" r="3.2" fill="#555" opacity="0.38" filter="url(#b2)"/>
<circle cx="290.1" cy="235.7" r="3.8" fill="#555" opacity="0.38" filter="url(#b2)"/>
<circle cx="287.1" cy="240.8" r="3.2" fill="#555" opacity="0.38" filter="url(#b2)"/>
<circle cx="301.3" cy="239.8" r="3.2" fill="#555" opacity="0.38" filter="url(#b2)"/>
<circle cx="306.3" cy="246.8" r="3.2" fill="#555" opacity="0.38" filter="url(#b2)"/>
<circle cx="325.5" cy="241.8" r="3.8" fill="#555" opacity="0.38" filter="url(#b2)"/>
<circle cx="332.6" cy="245.8" r="3.8" fill="#555" opacity="0.38" filter="url(#b2)"/>
<circle cx="335.6" cy="232.7" r="3.4" fill="#555" opacity="0.38" filter="url(#b2)"/>
<circle cx="341.6" cy="237.7" r="3.4" fill="#555" opacity="0.38" filter="url(#b2)"/>
<circle cx="346.7" cy="235.7" r="3.4" fill="#555" opacity="0.38" filter="url(#b2)"/>
<circle cx="334.6" cy="226.6" r="3.4" fill="#555" opacity="0.38" filter="url(#b2)"/>
<circle cx="311.3" cy="246.8" r="3.2" fill="#555" opacity="0.38" filter="url(#b2)"/>
<circle cx="284.7" cy="172.5" r="2.8" fill="#b2b2b2" fill-opacity="0.72" stroke="#3a3a3a" stroke-opacity="0.5" stroke-width="0.9" filter="url(#b05)"/>
<circle cx="292.2" cy="174.1" r="2.4" fill="#b2b2b2" fill-opacity="0.72" stroke="#3a3a3a" stroke-opacity="0.5" stroke-width="0.9" filter="url(#b05)"/>
<circle cx="297.2" cy="179.2" r="2.4" fill="#b2b2b2" fill-opacity="0.72" stroke="#3a3a3a" stroke-opacity="0.5" stroke-width="0.9" filter="url(#b05)"/>
<circle cx="304.3" cy="169.1" r="2.6" fill="#b2b2b2" fill-opacity="0.72" stroke="#3a3a3a" stroke-opacity="0.5" stroke-width="0.9" filter="url(#b05)"/>
<circle cx="301.3" cy="180.2" r="2.2" fill="#b2b2b2" fill-opacity="0.72" stroke="#3a3a3a" stroke-opacity="0.5" stroke-width="0.9" filter="url(#b05)"/>
<circle cx="307.3" cy="182.2" r="2.4" fill="#b2b2b2" fill-opacity="0.72" stroke="#3a3a3a" stroke-opacity="0.5" stroke-width="0.9" filter="url(#b05)"/>
<circle cx="310.3" cy="186.3" r="2.2" fill="#b2b2b2" fill-opacity="0.72" stroke="#3a3a3a" stroke-opacity="0.5" stroke-width="0.9" filter="url(#b05)"/>
<circle cx="293.2" cy="185.2" r="2.2" fill="#b2b2b2" fill-opacity="0.72" stroke="#3a3a3a" stroke-opacity="0.5" stroke-width="0.9" filter="url(#b05)"/>
<circle cx="312.4" cy="190.3" r="2.2" fill="#b2b2b2" fill-opacity="0.72" stroke="#3a3a3a" stroke-opacity="0.5" stroke-width="0.9" filter="url(#b05)"/>
<circle cx="335.6" cy="175.1" r="2.6" fill="#b2b2b2" fill-opacity="0.72" stroke="#3a3a3a" stroke-opacity="0.5" stroke-width="0.9" filter="url(#b05)"/>
<circle cx="344.7" cy="174.1" r="3.2" fill="#b2b2b2" fill-opacity="0.72" stroke="#3a3a3a" stroke-opacity="0.5" stroke-width="0.9" filter="url(#b05)"/>
<circle cx="349.7" cy="180.2" r="2.4" fill="#b2b2b2" fill-opacity="0.72" stroke="#3a3a3a" stroke-opacity="0.5" stroke-width="0.9" filter="url(#b05)"/>
<circle cx="341.6" cy="182.2" r="2.4" fill="#b2b2b2" fill-opacity="0.72" stroke="#3a3a3a" stroke-opacity="0.5" stroke-width="0.9" filter="url(#b05)"/>
<circle cx="337.6" cy="188.3" r="2.4" fill="#b2b2b2" fill-opacity="0.72" stroke="#3a3a3a" stroke-opacity="0.5" stroke-width="0.9" filter="url(#b05)"/>
<circle cx="346.7" cy="190.3" r="2.4" fill="#b2b2b2" fill-opacity="0.72" stroke="#3a3a3a" stroke-opacity="0.5" stroke-width="0.9" filter="url(#b05)"/>
<circle cx="350.7" cy="195.3" r="2.2" fill="#b2b2b2" fill-opacity="0.72" stroke="#3a3a3a" stroke-opacity="0.5" stroke-width="0.9" filter="url(#b05)"/>
<circle cx="341.6" cy="195.3" r="2.2" fill="#b2b2b2" fill-opacity="0.72" stroke="#3a3a3a" stroke-opacity="0.5" stroke-width="0.9" filter="url(#b05)"/>
<circle cx="311.3" cy="208.5" r="3.4" fill="#b2b2b2" fill-opacity="0.72" stroke="#3a3a3a" stroke-opacity="0.5" stroke-width="0.9" filter="url(#b05)"/>
<circle cx="308.3" cy="214.5" r="3.8" fill="#b2b2b2" fill-opacity="0.72" stroke="#3a3a3a" stroke-opacity="0.5" stroke-width="0.9" filter="url(#b05)"/>
<circle cx="312.8" cy="216.8" r="2.8" fill="#b2b2b2" fill-opacity="0.72" stroke="#3a3a3a" stroke-opacity="0.5" stroke-width="0.9" filter="url(#b05)"/>
<circle cx="306.3" cy="222.6" r="2.8" fill="#b2b2b2" fill-opacity="0.72" stroke="#3a3a3a" stroke-opacity="0.5" stroke-width="0.9" filter="url(#b05)"/>
<circle cx="307.3" cy="227.7" r="2.4" fill="#b2b2b2" fill-opacity="0.72" stroke="#3a3a3a" stroke-opacity="0.5" stroke-width="0.9" filter="url(#b05)"/>
<circle cx="318.4" cy="197.4" r="2.4" fill="#b2b2b2" fill-opacity="0.72" stroke="#3a3a3a" stroke-opacity="0.5" stroke-width="0.9" filter="url(#b05)"/>
<circle cx="322.5" cy="200.4" r="2.4" fill="#b2b2b2" fill-opacity="0.72" stroke="#3a3a3a" stroke-opacity="0.5" stroke-width="0.9" filter="url(#b05)"/>
<circle cx="328.5" cy="208.5" r="3.3" fill="#b2b2b2" fill-opacity="0.72" stroke="#3a3a3a" stroke-opacity="0.5" stroke-width="0.9" filter="url(#b05)"/>
<circle cx="335.6" cy="209.5" r="2.8" fill="#b2b2b2" fill-opacity="0.72" stroke="#3a3a3a" stroke-opacity="0.5" stroke-width="0.9" filter="url(#b05)"/>
<circle cx="340.6" cy="210.5" r="2.6" fill="#b2b2b2" fill-opacity="0.72" stroke="#3a3a3a" stroke-opacity="0.5" stroke-width="0.9" filter="url(#b05)"/>
<circle cx="333.6" cy="216.5" r="2.4" fill="#b2b2b2" fill-opacity="0.72" stroke="#3a3a3a" stroke-opacity="0.5" stroke-width="0.9" filter="url(#b05)"/>
<circle cx="286.1" cy="211.5" r="2.2" fill="#b2b2b2" fill-opacity="0.72" stroke="#3a3a3a" stroke-opacity="0.5" stroke-width="0.9" filter="url(#b05)"/>
<circle cx="291.2" cy="209.5" r="2.2" fill="#b2b2b2" fill-opacity="0.72" stroke="#3a3a3a" stroke-opacity="0.5" stroke-width="0.9" filter="url(#b05)"/>
<circle cx="295.2" cy="213.5" r="2.2" fill="#b2b2b2" fill-opacity="0.72" stroke="#3a3a3a" stroke-opacity="0.5" stroke-width="0.9" filter="url(#b05)"/>
<circle cx="300.2" cy="211.5" r="2.2" fill="#b2b2b2" fill-opacity="0.72" stroke="#3a3a3a" stroke-opacity="0.5" stroke-width="0.9" filter="url(#b05)"/>
<circle cx="297.2" cy="218.6" r="2.2" fill="#b2b2b2" fill-opacity="0.72" stroke="#3a3a3a" stroke-opacity="0.5" stroke-width="0.9" filter="url(#b05)"/>
<circle cx="289.1" cy="218.6" r="2.2" fill="#b2b2b2" fill-opacity="0.72" stroke="#3a3a3a" stroke-opacity="0.5" stroke-width="0.9" filter="url(#b05)"/>
<circle cx="290.1" cy="235.7" r="2.8" fill="#b2b2b2" fill-opacity="0.72" stroke="#3a3a3a" stroke-opacity="0.5" stroke-width="0.9" filter="url(#b05)"/>
<circle cx="287.1" cy="240.8" r="2.2" fill="#b2b2b2" fill-opacity="0.72" stroke="#3a3a3a" stroke-opacity="0.5" stroke-width="0.9" filter="url(#b05)"/>
<circle cx="301.3" cy="239.8" r="2.2" fill="#b2b2b2" fill-opacity="0.72" stroke="#3a3a3a" stroke-opacity="0.5" stroke-width="0.9" filter="url(#b05)"/>
<circle cx="306.3" cy="246.8" r="2.2" fill="#b2b2b2" fill-opacity="0.72" stroke="#3a3a3a" stroke-opacity="0.5" stroke-width="0.9" filter="url(#b05)"/>
<circle cx="325.5" cy="241.8" r="2.8" fill="#b2b2b2" fill-opacity="0.72" stroke="#3a3a3a" stroke-opacity="0.5" stroke-width="0.9" filter="url(#b05)"/>
<circle cx="332.6" cy="245.8" r="2.8" fill="#b2b2b2" fill-opacity="0.72" stroke="#3a3a3a" stroke-opacity="0.5" stroke-width="0.9" filter="url(#b05)"/>
<circle cx="335.6" cy="232.7" r="2.4" fill="#b2b2b2" fill-opacity="0.72" stroke="#3a3a3a" stroke-opacity="0.5" stroke-width="0.9" filter="url(#b05)"/>
<circle cx="341.6" cy="237.7" r="2.4" fill="#b2b2b2" fill-opacity="0.72" stroke="#3a3a3a" stroke-opacity="0.5" stroke-width="0.9" filter="url(#b05)"/>
<circle cx="346.7" cy="235.7" r="2.4" fill="#b2b2b2" fill-opacity="0.72" stroke="#3a3a3a" stroke-opacity="0.5" stroke-width="0.9" filter="url(#b05)"/>
<circle cx="334.6" cy="226.6" r="2.4" fill="#b2b2b2" fill-opacity="0.72" stroke="#3a3a3a" stroke-opacity="0.5" stroke-width="0.9" filter="url(#b05)"/>
<circle cx="311.3" cy="246.8" r="2.2" fill="#b2b2b2" fill-opacity="0.72" stroke="#3a3a3a" stroke-opacity="0.5" stroke-width="0.9" filter="url(#b05)"/>
<circle cx="347.6" cy="200.4" r="0.55" fill="#e8e8e8" opacity="0.9"/>
<circle cx="360.6" cy="202.9" r="0.55" fill="#e8e8e8" opacity="0.9"/>
<circle cx="337.9" cy="181.9" r="0.55" fill="#e8e8e8" opacity="0.9"/>
<circle cx="343.9" cy="169.3" r="0.55" fill="#e8e8e8" opacity="0.9"/>
<circle cx="359.5" cy="181.7" r="0.55" fill="#e8e8e8" opacity="0.9"/>
<circle cx="317.5" cy="167.2" r="0.55" fill="#e8e8e8" opacity="0.9"/>
<circle cx="374.8" cy="220.1" r="0.55" fill="#e8e8e8" opacity="0.9"/>
<circle cx="365.6" cy="210.8" r="0.55" fill="#e8e8e8" opacity="0.9"/>
<circle cx="337.3" cy="172.8" r="0.55" fill="#e8e8e8" opacity="0.9"/>
<circle cx="371.4" cy="192.0" r="0.55" fill="#e8e8e8" opacity="0.9"/>
<circle cx="314.0" cy="166.8" r="0.55" fill="#e8e8e8" opacity="0.9"/>
<circle cx="364.9" cy="181.8" r="0.55" fill="#e8e8e8" opacity="0.9"/>
<circle cx="358.5" cy="179.9" r="0.55" fill="#e8e8e8" opacity="0.9"/>
<circle cx="372.7" cy="231.9" r="0.55" fill="#e8e8e8" opacity="0.9"/>
<circle cx="356.6" cy="222.0" r="0.55" fill="#e8e8e8" opacity="0.9"/>
<circle cx="362.0" cy="179.3" r="0.55" fill="#e8e8e8" opacity="0.9"/>
<circle cx="369.2" cy="231.5" r="0.55" fill="#e8e8e8" opacity="0.9"/>
<circle cx="374.6" cy="193.4" r="0.55" fill="#e8e8e8" opacity="0.9"/>
<circle cx="302.0" cy="171.1" r="0.55" fill="#e8e8e8" opacity="0.9"/>
<circle cx="353.9" cy="239.5" r="0.55" fill="#e8e8e8" opacity="0.9"/>
<circle cx="313.6" cy="176.9" r="0.55" fill="#e8e8e8" opacity="0.9"/>
<circle cx="323.0" cy="171.8" r="0.55" fill="#e8e8e8" opacity="0.9"/>
<circle cx="281.3" cy="203.0" r="0.5" fill="#d8d8d8" opacity="0.8"/>
<circle cx="295.5" cy="196.0" r="0.5" fill="#d8d8d8" opacity="0.8"/>
<circle cx="293.7" cy="200.8" r="0.5" fill="#d8d8d8" opacity="0.8"/>
<circle cx="298.0" cy="205.3" r="0.5" fill="#d8d8d8" opacity="0.8"/>
<circle cx="288.1" cy="205.8" r="0.5" fill="#d8d8d8" opacity="0.8"/>
<circle cx="299.2" cy="199.4" r="0.5" fill="#d8d8d8" opacity="0.8"/>
<circle cx="297.7" cy="197.9" r="0.5" fill="#d8d8d8" opacity="0.8"/>
<circle cx="287.5" cy="194.0" r="0.5" fill="#d8d8d8" opacity="0.8"/>
<circle cx="297.5" cy="192.6" r="0.5" fill="#d8d8d8" opacity="0.8"/>
<circle cx="281.4" cy="202.9" r="0.5" fill="#d8d8d8" opacity="0.8"/>
<circle cx="295.5" cy="197.7" r="0.5" fill="#d8d8d8" opacity="0.8"/>
<circle cx="296.7" cy="190.8" r="0.5" fill="#d8d8d8" opacity="0.8"/>
<circle cx="285.2" cy="194.6" r="0.5" fill="#d8d8d8" opacity="0.8"/>
<circle cx="288.4" cy="192.7" r="0.5" fill="#d8d8d8" opacity="0.8"/>
<rect x="278.6" y="162.9" width="97.00" height="87.70" filter="url(#noiseG)" opacity="0.14"/>
<rect x="278.6" y="162.9" width="97.00" height="87.70" filter="url(#noiseW)" opacity="0.05"/>
</g>
<line x1="350.80" y1="248.00" x2="374.30" y2="248.00" stroke="#222" stroke-width="0.9"/>
<rect x="0.5" y="0.5" width="519" height="561" fill="none" stroke="#555" stroke-width="1"/>
</svg></body></html>
